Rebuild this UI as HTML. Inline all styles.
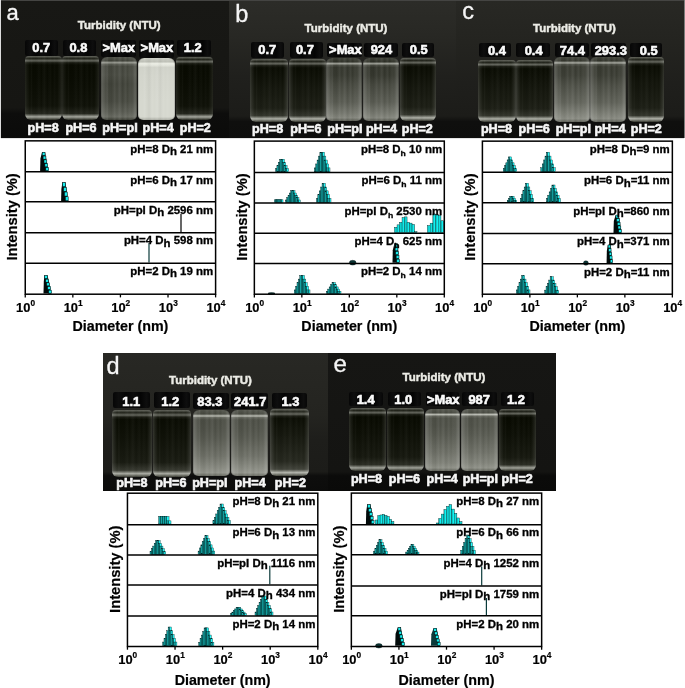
<!DOCTYPE html>
<html><head><meta charset="utf-8"><style>
html,body{margin:0;padding:0;background:#fff;}
body{width:685px;height:688px;position:relative;overflow:hidden;font-family:"Liberation Sans", sans-serif;}
.photo{position:absolute;overflow:hidden;}
.photo div{position:absolute;}
.cap{background:linear-gradient(90deg,#060606,#0e0e0e 15%,#040404 35%,#0c0c0c 55%,#040404 75%,#0e0e0e 90%,#070707);border-radius:2px;}
.vc{border-radius:4px 4px 6px 6px;}

.vt{border-radius:6px 6px 5px 5px;box-shadow:inset 1px 0 0 rgba(0,0,0,0.15),inset -1px 0 0 rgba(0,0,0,0.15);}

svg{position:absolute;left:0;top:0;will-change:transform;}
svg text{font-family:"Liberation Sans", sans-serif;}
</style></head><body>
<div class="photo" style="left:1px;top:1px;width:228px;height:137px;background:linear-gradient(#181815 0%,#161613 78%,#0d0d0c 82%,#0b0b0a 100%)"><div class="cap" style="left:24px;top:39px;width:33px;height:16px"></div><div class="vc" style="left:24px;top:55px;width:37px;height:64px;background:linear-gradient(90deg,rgba(255,255,255,0.1) 0,rgba(255,255,255,0.050) 2px,rgba(255,255,255,0) 5px,rgba(255,255,255,0) calc(100% - 5px),rgba(255,255,255,0.050) calc(100% - 2px),rgba(255,255,255,0.1) 100%),linear-gradient(90deg,rgba(255,255,255,0) 14%,rgba(255,255,255,0.03) 17%,rgba(255,255,255,0) 21%,rgba(0,0,0,0.04) 30%,rgba(255,255,255,0.025) 38%,rgba(255,255,255,0) 44%,rgba(255,255,255,0.035) 52%,rgba(0,0,0,0.03) 60%,rgba(255,255,255,0.025) 68%,rgba(255,255,255,0) 74%,rgba(255,255,255,0.02) 80%,rgba(255,255,255,0) 86%),linear-gradient(180deg,#62645b 0%,#21231a 4%,#62645b 7.5%,#171910 10.5%,#080a01 14%,#0a0c03 40%,#0f1108 78%,#23251c 90%,#a5a79e 95%,#23251c 100%)"></div><div class="cap" style="left:62px;top:39px;width:33px;height:16px"></div><div class="vc" style="left:61px;top:55px;width:37px;height:64px;background:linear-gradient(90deg,rgba(255,255,255,0.1) 0,rgba(255,255,255,0.050) 2px,rgba(255,255,255,0) 5px,rgba(255,255,255,0) calc(100% - 5px),rgba(255,255,255,0.050) calc(100% - 2px),rgba(255,255,255,0.1) 100%),linear-gradient(90deg,rgba(255,255,255,0) 14%,rgba(255,255,255,0.03) 17%,rgba(255,255,255,0) 21%,rgba(0,0,0,0.04) 30%,rgba(255,255,255,0.025) 38%,rgba(255,255,255,0) 44%,rgba(255,255,255,0.035) 52%,rgba(0,0,0,0.03) 60%,rgba(255,255,255,0.025) 68%,rgba(255,255,255,0) 74%,rgba(255,255,255,0.02) 80%,rgba(255,255,255,0) 86%),linear-gradient(180deg,#62645b 0%,#21231a 4%,#62645b 7.5%,#171910 10.5%,#080a01 14%,#0a0c03 40%,#0f1108 78%,#23251c 90%,#a5a79e 95%,#23251c 100%)"></div><div class="cap" style="left:100px;top:39px;width:35px;height:17px"></div><div class="vt" style="left:100px;top:56px;width:36px;height:63px;background:linear-gradient(90deg,rgba(255,255,255,0.182) 0%,rgba(255,255,255,0.126) 6%,rgba(255,255,255,0.042) 14%,rgba(255,255,255,0) 22%,rgba(255,255,255,0) 80%,rgba(255,255,255,0.056) 88%,rgba(255,255,255,0.154) 95%,rgba(255,255,255,0.084) 100%),linear-gradient(90deg,rgba(255,255,255,0) 14%,rgba(255,255,255,0.07) 17%,rgba(255,255,255,0) 21%,rgba(0,0,0,0.04) 30%,rgba(255,255,255,0.06) 38%,rgba(255,255,255,0) 44%,rgba(255,255,255,0.08) 52%,rgba(0,0,0,0.03) 60%,rgba(255,255,255,0.06) 68%,rgba(255,255,255,0) 74%,rgba(255,255,255,0.05) 80%,rgba(255,255,255,0) 86%),linear-gradient(180deg,#4e5047 0%,#3f4138 6%,#96988f 9%,#585a51 11.5%,#44463d 15%,#474940 28%,#404239 42%,#46483f 70%,#585a51 87%,#66685f 95%,#393b32 100%)"></div><div class="cap" style="left:138px;top:39px;width:35px;height:18px"></div><div class="vt" style="left:137px;top:57px;width:37px;height:62px;background:linear-gradient(90deg,rgba(255,255,255,-0.039) 0%,rgba(255,255,255,-0.027) 6%,rgba(255,255,255,-0.009) 14%,rgba(255,255,255,0) 22%,rgba(255,255,255,0) 80%,rgba(255,255,255,-0.012) 88%,rgba(255,255,255,-0.033) 95%,rgba(255,255,255,-0.018) 100%),linear-gradient(90deg,rgba(255,255,255,0) 14%,rgba(255,255,255,0.07) 17%,rgba(255,255,255,0) 21%,rgba(0,0,0,0.04) 30%,rgba(255,255,255,0.06) 38%,rgba(255,255,255,0) 44%,rgba(255,255,255,0.08) 52%,rgba(0,0,0,0.03) 60%,rgba(255,255,255,0.06) 68%,rgba(255,255,255,0) 74%,rgba(255,255,255,0.05) 80%,rgba(255,255,255,0) 86%),linear-gradient(180deg,#cdcfc6 0%,#bec0b7 6%,#ebede4 9%,#e4e6dd 11.5%,#d0d2c9 15%,#d3d5cc 28%,#d4d6cd 42%,#d6d8cf 70%,#d6d8cf 87%,#d6d8cf 95%,#a9aba2 100%)"></div><div class="cap" style="left:176px;top:39px;width:34px;height:16px"></div><div class="vc" style="left:175px;top:56px;width:37px;height:63px;background:linear-gradient(90deg,rgba(255,255,255,0.1) 0,rgba(255,255,255,0.050) 2px,rgba(255,255,255,0) 5px,rgba(255,255,255,0) calc(100% - 5px),rgba(255,255,255,0.050) calc(100% - 2px),rgba(255,255,255,0.1) 100%),linear-gradient(90deg,rgba(255,255,255,0) 14%,rgba(255,255,255,0.03) 17%,rgba(255,255,255,0) 21%,rgba(0,0,0,0.04) 30%,rgba(255,255,255,0.025) 38%,rgba(255,255,255,0) 44%,rgba(255,255,255,0.035) 52%,rgba(0,0,0,0.03) 60%,rgba(255,255,255,0.025) 68%,rgba(255,255,255,0) 74%,rgba(255,255,255,0.02) 80%,rgba(255,255,255,0) 86%),linear-gradient(180deg,#62645b 0%,#21231a 4%,#62645b 7.5%,#171910 10.5%,#080a01 14%,#0a0c03 40%,#0f1108 78%,#23251c 90%,#a5a79e 95%,#23251c 100%)"></div></div><div class="photo" style="left:229px;top:1px;width:227px;height:137px;background:linear-gradient(#2c2c28 0%,#282824 25%,#20201d 55%,#1c1c19 84%,#0f0f0e 88%,#0e0e0d 100%)"><div class="cap" style="left:22px;top:41px;width:33px;height:16px"></div><div class="vc" style="left:21px;top:58px;width:38px;height:63px;background:linear-gradient(90deg,rgba(255,255,255,0.16) 0,rgba(255,255,255,0.080) 2px,rgba(255,255,255,0) 5px,rgba(255,255,255,0) calc(100% - 5px),rgba(255,255,255,0.080) calc(100% - 2px),rgba(255,255,255,0.16) 100%),linear-gradient(90deg,rgba(255,255,255,0) 14%,rgba(255,255,255,0.03) 17%,rgba(255,255,255,0) 21%,rgba(0,0,0,0.04) 30%,rgba(255,255,255,0.025) 38%,rgba(255,255,255,0) 44%,rgba(255,255,255,0.035) 52%,rgba(0,0,0,0.03) 60%,rgba(255,255,255,0.025) 68%,rgba(255,255,255,0) 74%,rgba(255,255,255,0.02) 80%,rgba(255,255,255,0) 86%),linear-gradient(180deg,#64665d 0%,#23251c 4%,#64665d 7.5%,#191b12 10.5%,#0a0c03 14%,#12140b 40%,#1c1e15 78%,#32342b 90%,#afb1a8 95%,#32342b 100%)"></div><div class="cap" style="left:61px;top:41px;width:33px;height:16px"></div><div class="vc" style="left:60px;top:58px;width:37px;height:63px;background:linear-gradient(90deg,rgba(255,255,255,0.16) 0,rgba(255,255,255,0.080) 2px,rgba(255,255,255,0) 5px,rgba(255,255,255,0) calc(100% - 5px),rgba(255,255,255,0.080) calc(100% - 2px),rgba(255,255,255,0.16) 100%),linear-gradient(90deg,rgba(255,255,255,0) 14%,rgba(255,255,255,0.03) 17%,rgba(255,255,255,0) 21%,rgba(0,0,0,0.04) 30%,rgba(255,255,255,0.025) 38%,rgba(255,255,255,0) 44%,rgba(255,255,255,0.035) 52%,rgba(0,0,0,0.03) 60%,rgba(255,255,255,0.025) 68%,rgba(255,255,255,0) 74%,rgba(255,255,255,0.02) 80%,rgba(255,255,255,0) 86%),linear-gradient(180deg,#64665d 0%,#23251c 4%,#64665d 7.5%,#191b12 10.5%,#0a0c03 14%,#12140b 40%,#1c1e15 78%,#32342b 90%,#afb1a8 95%,#32342b 100%)"></div><div class="cap" style="left:98px;top:42px;width:35px;height:14px"></div><div class="vt" style="left:97px;top:57px;width:36px;height:63px;background:linear-gradient(90deg,rgba(255,255,255,0.208) 0%,rgba(255,255,255,0.144) 6%,rgba(255,255,255,0.048) 14%,rgba(255,255,255,0) 22%,rgba(255,255,255,0) 80%,rgba(255,255,255,0.064) 88%,rgba(255,255,255,0.176) 95%,rgba(255,255,255,0.096) 100%),linear-gradient(90deg,rgba(255,255,255,0) 14%,rgba(255,255,255,0.07) 17%,rgba(255,255,255,0) 21%,rgba(0,0,0,0.04) 30%,rgba(255,255,255,0.06) 38%,rgba(255,255,255,0) 44%,rgba(255,255,255,0.08) 52%,rgba(0,0,0,0.03) 60%,rgba(255,255,255,0.06) 68%,rgba(255,255,255,0) 74%,rgba(255,255,255,0.05) 80%,rgba(255,255,255,0) 86%),linear-gradient(180deg,#3e4037 0%,#2f3128 6%,#a2a49b 9%,#484a41 11.5%,#34362d 15%,#373930 28%,#44463d 42%,#585a51 70%,#72746b 87%,#82847b 95%,#55574e 100%)"></div><div class="cap" style="left:135px;top:42px;width:34px;height:14px"></div><div class="vt" style="left:134px;top:57px;width:36px;height:63px;background:linear-gradient(90deg,rgba(255,255,255,0.208) 0%,rgba(255,255,255,0.144) 6%,rgba(255,255,255,0.048) 14%,rgba(255,255,255,0) 22%,rgba(255,255,255,0) 80%,rgba(255,255,255,0.064) 88%,rgba(255,255,255,0.176) 95%,rgba(255,255,255,0.096) 100%),linear-gradient(90deg,rgba(255,255,255,0) 14%,rgba(255,255,255,0.07) 17%,rgba(255,255,255,0) 21%,rgba(0,0,0,0.04) 30%,rgba(255,255,255,0.06) 38%,rgba(255,255,255,0) 44%,rgba(255,255,255,0.08) 52%,rgba(0,0,0,0.03) 60%,rgba(255,255,255,0.06) 68%,rgba(255,255,255,0) 74%,rgba(255,255,255,0.05) 80%,rgba(255,255,255,0) 86%),linear-gradient(180deg,#3c3e35 0%,#2d2f26 6%,#a0a299 9%,#46483f 11.5%,#32342b 15%,#35372e 28%,#44463d 42%,#585a51 70%,#73756c 87%,#82847b 95%,#55574e 100%)"></div><div class="cap" style="left:173px;top:42px;width:32px;height:14px"></div><div class="vc" style="left:171px;top:57px;width:36px;height:63px;background:linear-gradient(90deg,rgba(255,255,255,0.16) 0,rgba(255,255,255,0.080) 2px,rgba(255,255,255,0) 5px,rgba(255,255,255,0) calc(100% - 5px),rgba(255,255,255,0.080) calc(100% - 2px),rgba(255,255,255,0.16) 100%),linear-gradient(90deg,rgba(255,255,255,0) 14%,rgba(255,255,255,0.03) 17%,rgba(255,255,255,0) 21%,rgba(0,0,0,0.04) 30%,rgba(255,255,255,0.025) 38%,rgba(255,255,255,0) 44%,rgba(255,255,255,0.035) 52%,rgba(0,0,0,0.03) 60%,rgba(255,255,255,0.025) 68%,rgba(255,255,255,0) 74%,rgba(255,255,255,0.02) 80%,rgba(255,255,255,0) 86%),linear-gradient(180deg,#64665d 0%,#23251c 4%,#64665d 7.5%,#191b12 10.5%,#0a0c03 14%,#12140b 40%,#1c1e15 78%,#32342b 90%,#afb1a8 95%,#32342b 100%)"></div></div><div class="photo" style="left:456px;top:1px;width:228px;height:137px;background:linear-gradient(#282824 0%,#242420 30%,#1f1f1c 60%,#1c1c19 84%,#0f0f0e 88%,#0e0e0d 100%)"><div class="cap" style="left:23px;top:42px;width:32px;height:14px"></div><div class="vc" style="left:22px;top:59px;width:38px;height:62px;background:linear-gradient(90deg,rgba(255,255,255,0.16) 0,rgba(255,255,255,0.080) 2px,rgba(255,255,255,0) 5px,rgba(255,255,255,0) calc(100% - 5px),rgba(255,255,255,0.080) calc(100% - 2px),rgba(255,255,255,0.16) 100%),linear-gradient(90deg,rgba(255,255,255,0) 14%,rgba(255,255,255,0.03) 17%,rgba(255,255,255,0) 21%,rgba(0,0,0,0.04) 30%,rgba(255,255,255,0.025) 38%,rgba(255,255,255,0) 44%,rgba(255,255,255,0.035) 52%,rgba(0,0,0,0.03) 60%,rgba(255,255,255,0.025) 68%,rgba(255,255,255,0) 74%,rgba(255,255,255,0.02) 80%,rgba(255,255,255,0) 86%),linear-gradient(180deg,#64665d 0%,#23251c 4%,#64665d 7.5%,#191b12 10.5%,#0a0c03 14%,#12140b 40%,#1c1e15 78%,#32342b 90%,#afb1a8 95%,#32342b 100%)"></div><div class="cap" style="left:60px;top:42px;width:34px;height:14px"></div><div class="vc" style="left:60px;top:59px;width:37px;height:62px;background:linear-gradient(90deg,rgba(255,255,255,0.16) 0,rgba(255,255,255,0.080) 2px,rgba(255,255,255,0) 5px,rgba(255,255,255,0) calc(100% - 5px),rgba(255,255,255,0.080) calc(100% - 2px),rgba(255,255,255,0.16) 100%),linear-gradient(90deg,rgba(255,255,255,0) 14%,rgba(255,255,255,0.03) 17%,rgba(255,255,255,0) 21%,rgba(0,0,0,0.04) 30%,rgba(255,255,255,0.025) 38%,rgba(255,255,255,0) 44%,rgba(255,255,255,0.035) 52%,rgba(0,0,0,0.03) 60%,rgba(255,255,255,0.025) 68%,rgba(255,255,255,0) 74%,rgba(255,255,255,0.02) 80%,rgba(255,255,255,0) 86%),linear-gradient(180deg,#64665d 0%,#23251c 4%,#64665d 7.5%,#191b12 10.5%,#0a0c03 14%,#12140b 40%,#1c1e15 78%,#32342b 90%,#afb1a8 95%,#32342b 100%)"></div><div class="cap" style="left:99px;top:42px;width:34px;height:14px"></div><div class="vt" style="left:98px;top:56px;width:36px;height:65px;background:linear-gradient(90deg,rgba(255,255,255,0.208) 0%,rgba(255,255,255,0.144) 6%,rgba(255,255,255,0.048) 14%,rgba(255,255,255,0) 22%,rgba(255,255,255,0) 80%,rgba(255,255,255,0.064) 88%,rgba(255,255,255,0.176) 95%,rgba(255,255,255,0.096) 100%),linear-gradient(90deg,rgba(255,255,255,0) 14%,rgba(255,255,255,0.07) 17%,rgba(255,255,255,0) 21%,rgba(0,0,0,0.04) 30%,rgba(255,255,255,0.06) 38%,rgba(255,255,255,0) 44%,rgba(255,255,255,0.08) 52%,rgba(0,0,0,0.03) 60%,rgba(255,255,255,0.06) 68%,rgba(255,255,255,0) 74%,rgba(255,255,255,0.05) 80%,rgba(255,255,255,0) 86%),linear-gradient(180deg,#43453c 0%,#34362d 6%,#a7a9a0 9%,#4d4f46 11.5%,#393b32 15%,#3c3e35 28%,#4b4d44 42%,#61635a 70%,#7d7f76 87%,#8a8c83 95%,#5d5f56 100%)"></div><div class="cap" style="left:135px;top:42px;width:35px;height:14px"></div><div class="vt" style="left:134px;top:56px;width:36px;height:65px;background:linear-gradient(90deg,rgba(255,255,255,0.208) 0%,rgba(255,255,255,0.144) 6%,rgba(255,255,255,0.048) 14%,rgba(255,255,255,0) 22%,rgba(255,255,255,0) 80%,rgba(255,255,255,0.064) 88%,rgba(255,255,255,0.176) 95%,rgba(255,255,255,0.096) 100%),linear-gradient(90deg,rgba(255,255,255,0) 14%,rgba(255,255,255,0.07) 17%,rgba(255,255,255,0) 21%,rgba(0,0,0,0.04) 30%,rgba(255,255,255,0.06) 38%,rgba(255,255,255,0) 44%,rgba(255,255,255,0.08) 52%,rgba(0,0,0,0.03) 60%,rgba(255,255,255,0.06) 68%,rgba(255,255,255,0) 74%,rgba(255,255,255,0.05) 80%,rgba(255,255,255,0) 86%),linear-gradient(180deg,#41433a 0%,#32342b 6%,#a5a79e 9%,#4b4d44 11.5%,#373930 15%,#3a3c33 28%,#484a41 42%,#5e6057 70%,#7a7c73 87%,#878980 95%,#5a5c53 100%)"></div><div class="cap" style="left:174px;top:42px;width:32px;height:14px"></div><div class="vc" style="left:172px;top:56px;width:36px;height:65px;background:linear-gradient(90deg,rgba(255,255,255,0.16) 0,rgba(255,255,255,0.080) 2px,rgba(255,255,255,0) 5px,rgba(255,255,255,0) calc(100% - 5px),rgba(255,255,255,0.080) calc(100% - 2px),rgba(255,255,255,0.16) 100%),linear-gradient(90deg,rgba(255,255,255,0) 14%,rgba(255,255,255,0.03) 17%,rgba(255,255,255,0) 21%,rgba(0,0,0,0.04) 30%,rgba(255,255,255,0.025) 38%,rgba(255,255,255,0) 44%,rgba(255,255,255,0.035) 52%,rgba(0,0,0,0.03) 60%,rgba(255,255,255,0.025) 68%,rgba(255,255,255,0) 74%,rgba(255,255,255,0.02) 80%,rgba(255,255,255,0) 86%),linear-gradient(180deg,#64665d 0%,#23251c 4%,#64665d 7.5%,#191b12 10.5%,#0a0c03 14%,#12140b 40%,#1c1e15 78%,#32342b 90%,#afb1a8 95%,#32342b 100%)"></div></div><div class="photo" style="left:103px;top:353px;width:225px;height:138px;background:linear-gradient(#282824 0%,#242420 45%,#1e1e1b 63%,#1c1c19 86%,#0e0e0d 89%,#0c0c0b 100%)"><div class="cap" style="left:10px;top:39px;width:37px;height:16px"></div><div class="vc" style="left:9px;top:57px;width:40px;height:67px;background:linear-gradient(90deg,rgba(255,255,255,0.16) 0,rgba(255,255,255,0.080) 2px,rgba(255,255,255,0) 5px,rgba(255,255,255,0) calc(100% - 5px),rgba(255,255,255,0.080) calc(100% - 2px),rgba(255,255,255,0.16) 100%),linear-gradient(90deg,rgba(255,255,255,0) 14%,rgba(255,255,255,0.03) 17%,rgba(255,255,255,0) 21%,rgba(0,0,0,0.04) 30%,rgba(255,255,255,0.025) 38%,rgba(255,255,255,0) 44%,rgba(255,255,255,0.035) 52%,rgba(0,0,0,0.03) 60%,rgba(255,255,255,0.025) 68%,rgba(255,255,255,0) 74%,rgba(255,255,255,0.02) 80%,rgba(255,255,255,0) 86%),linear-gradient(180deg,#64665d 0%,#23251c 4%,#64665d 7.5%,#191b12 10.5%,#0a0c03 14%,#0f1108 40%,#191b12 78%,#373930 90%,#aaaca3 95%,#373930 100%)"></div><div class="cap" style="left:51px;top:39px;width:36px;height:16px"></div><div class="vc" style="left:50px;top:57px;width:38px;height:67px;background:linear-gradient(90deg,rgba(255,255,255,0.16) 0,rgba(255,255,255,0.080) 2px,rgba(255,255,255,0) 5px,rgba(255,255,255,0) calc(100% - 5px),rgba(255,255,255,0.080) calc(100% - 2px),rgba(255,255,255,0.16) 100%),linear-gradient(90deg,rgba(255,255,255,0) 14%,rgba(255,255,255,0.03) 17%,rgba(255,255,255,0) 21%,rgba(0,0,0,0.04) 30%,rgba(255,255,255,0.025) 38%,rgba(255,255,255,0) 44%,rgba(255,255,255,0.035) 52%,rgba(0,0,0,0.03) 60%,rgba(255,255,255,0.025) 68%,rgba(255,255,255,0) 74%,rgba(255,255,255,0.02) 80%,rgba(255,255,255,0) 86%),linear-gradient(180deg,#64665d 0%,#23251c 4%,#64665d 7.5%,#191b12 10.5%,#0a0c03 14%,#0f1108 40%,#191b12 78%,#373930 90%,#aaaca3 95%,#373930 100%)"></div><div class="cap" style="left:90px;top:40px;width:36px;height:16px"></div><div class="vt" style="left:90px;top:57px;width:37px;height:66px;background:linear-gradient(90deg,rgba(255,255,255,0.208) 0%,rgba(255,255,255,0.144) 6%,rgba(255,255,255,0.048) 14%,rgba(255,255,255,0) 22%,rgba(255,255,255,0) 80%,rgba(255,255,255,0.064) 88%,rgba(255,255,255,0.176) 95%,rgba(255,255,255,0.096) 100%),linear-gradient(90deg,rgba(255,255,255,0) 14%,rgba(255,255,255,0.07) 17%,rgba(255,255,255,0) 21%,rgba(0,0,0,0.04) 30%,rgba(255,255,255,0.06) 38%,rgba(255,255,255,0) 44%,rgba(255,255,255,0.08) 52%,rgba(0,0,0,0.03) 60%,rgba(255,255,255,0.06) 68%,rgba(255,255,255,0) 74%,rgba(255,255,255,0.05) 80%,rgba(255,255,255,0) 86%),linear-gradient(180deg,#54564d 0%,#45473e 6%,#b8bab1 9%,#5e6057 11.5%,#4a4c43 15%,#4d4f46 28%,#54564d 42%,#6c6e65 70%,#84867d 87%,#91938a 95%,#64665d 100%)"></div><div class="cap" style="left:128px;top:40px;width:37px;height:16px"></div><div class="vt" style="left:128px;top:57px;width:37px;height:66px;background:linear-gradient(90deg,rgba(255,255,255,0.208) 0%,rgba(255,255,255,0.144) 6%,rgba(255,255,255,0.048) 14%,rgba(255,255,255,0) 22%,rgba(255,255,255,0) 80%,rgba(255,255,255,0.064) 88%,rgba(255,255,255,0.176) 95%,rgba(255,255,255,0.096) 100%),linear-gradient(90deg,rgba(255,255,255,0) 14%,rgba(255,255,255,0.07) 17%,rgba(255,255,255,0) 21%,rgba(0,0,0,0.04) 30%,rgba(255,255,255,0.06) 38%,rgba(255,255,255,0) 44%,rgba(255,255,255,0.08) 52%,rgba(0,0,0,0.03) 60%,rgba(255,255,255,0.06) 68%,rgba(255,255,255,0) 74%,rgba(255,255,255,0.05) 80%,rgba(255,255,255,0) 86%),linear-gradient(180deg,#56584f 0%,#474940 6%,#babcb3 9%,#606259 11.5%,#4c4e45 15%,#4f5148 28%,#56584f 42%,#6e7067 70%,#878980 87%,#94968d 95%,#676960 100%)"></div><div class="cap" style="left:169px;top:40px;width:35px;height:15px"></div><div class="vc" style="left:167px;top:56px;width:39px;height:67px;background:linear-gradient(90deg,rgba(255,255,255,0.18) 0,rgba(255,255,255,0.090) 2px,rgba(255,255,255,0) 5px,rgba(255,255,255,0) calc(100% - 5px),rgba(255,255,255,0.090) calc(100% - 2px),rgba(255,255,255,0.18) 100%),linear-gradient(90deg,rgba(255,255,255,0) 14%,rgba(255,255,255,0.03) 17%,rgba(255,255,255,0) 21%,rgba(0,0,0,0.04) 30%,rgba(255,255,255,0.025) 38%,rgba(255,255,255,0) 44%,rgba(255,255,255,0.035) 52%,rgba(0,0,0,0.03) 60%,rgba(255,255,255,0.025) 68%,rgba(255,255,255,0) 74%,rgba(255,255,255,0.02) 80%,rgba(255,255,255,0) 86%),linear-gradient(180deg,#66685f 0%,#25271e 4%,#66685f 7.5%,#1b1d14 10.5%,#0c0e05 14%,#16180f 40%,#26281f 78%,#41433a 90%,#b4b6ad 95%,#41433a 100%)"></div></div><div class="photo" style="left:328px;top:353px;width:228px;height:138px;background:linear-gradient(#161614 0%,#141412 86%,#0b0b0a 89%,#0a0a09 100%)"><div class="cap" style="left:21px;top:39px;width:34px;height:14px"></div><div class="vc" style="left:21px;top:55px;width:37px;height:63px;background:linear-gradient(90deg,rgba(255,255,255,0.14) 0,rgba(255,255,255,0.070) 2px,rgba(255,255,255,0) 5px,rgba(255,255,255,0) calc(100% - 5px),rgba(255,255,255,0.070) calc(100% - 2px),rgba(255,255,255,0.14) 100%),linear-gradient(90deg,rgba(255,255,255,0) 14%,rgba(255,255,255,0.03) 17%,rgba(255,255,255,0) 21%,rgba(0,0,0,0.04) 30%,rgba(255,255,255,0.025) 38%,rgba(255,255,255,0) 44%,rgba(255,255,255,0.035) 52%,rgba(0,0,0,0.03) 60%,rgba(255,255,255,0.025) 68%,rgba(255,255,255,0) 74%,rgba(255,255,255,0.02) 80%,rgba(255,255,255,0) 86%),linear-gradient(180deg,#62645b 0%,#21231a 4%,#62645b 7.5%,#171910 10.5%,#080a01 14%,#0d0f06 40%,#16180f 78%,#2a2c23 90%,#a0a299 95%,#2a2c23 100%)"></div><div class="cap" style="left:60px;top:39px;width:33px;height:14px"></div><div class="vc" style="left:59px;top:55px;width:37px;height:63px;background:linear-gradient(90deg,rgba(255,255,255,0.14) 0,rgba(255,255,255,0.070) 2px,rgba(255,255,255,0) 5px,rgba(255,255,255,0) calc(100% - 5px),rgba(255,255,255,0.070) calc(100% - 2px),rgba(255,255,255,0.14) 100%),linear-gradient(90deg,rgba(255,255,255,0) 14%,rgba(255,255,255,0.03) 17%,rgba(255,255,255,0) 21%,rgba(0,0,0,0.04) 30%,rgba(255,255,255,0.025) 38%,rgba(255,255,255,0) 44%,rgba(255,255,255,0.035) 52%,rgba(0,0,0,0.03) 60%,rgba(255,255,255,0.025) 68%,rgba(255,255,255,0) 74%,rgba(255,255,255,0.02) 80%,rgba(255,255,255,0) 86%),linear-gradient(180deg,#62645b 0%,#21231a 4%,#62645b 7.5%,#171910 10.5%,#080a01 14%,#0d0f06 40%,#16180f 78%,#2a2c23 90%,#a0a299 95%,#2a2c23 100%)"></div><div class="cap" style="left:98px;top:39px;width:33px;height:14px"></div><div class="vt" style="left:97px;top:56px;width:35px;height:62px;background:linear-gradient(90deg,rgba(255,255,255,0.208) 0%,rgba(255,255,255,0.144) 6%,rgba(255,255,255,0.048) 14%,rgba(255,255,255,0) 22%,rgba(255,255,255,0) 80%,rgba(255,255,255,0.064) 88%,rgba(255,255,255,0.176) 95%,rgba(255,255,255,0.096) 100%),linear-gradient(90deg,rgba(255,255,255,0) 14%,rgba(255,255,255,0.07) 17%,rgba(255,255,255,0) 21%,rgba(0,0,0,0.04) 30%,rgba(255,255,255,0.06) 38%,rgba(255,255,255,0) 44%,rgba(255,255,255,0.08) 52%,rgba(0,0,0,0.03) 60%,rgba(255,255,255,0.06) 68%,rgba(255,255,255,0) 74%,rgba(255,255,255,0.05) 80%,rgba(255,255,255,0) 86%),linear-gradient(180deg,#56584f 0%,#474940 6%,#babcb3 9%,#606259 11.5%,#4c4e45 15%,#4f5148 28%,#56584f 42%,#6c6e65 70%,#7d7f76 87%,#8c8e85 95%,#5f6158 100%)"></div><div class="cap" style="left:134px;top:39px;width:35px;height:14px"></div><div class="vt" style="left:133px;top:56px;width:37px;height:62px;background:linear-gradient(90deg,rgba(255,255,255,0.208) 0%,rgba(255,255,255,0.144) 6%,rgba(255,255,255,0.048) 14%,rgba(255,255,255,0) 22%,rgba(255,255,255,0) 80%,rgba(255,255,255,0.064) 88%,rgba(255,255,255,0.176) 95%,rgba(255,255,255,0.096) 100%),linear-gradient(90deg,rgba(255,255,255,0) 14%,rgba(255,255,255,0.07) 17%,rgba(255,255,255,0) 21%,rgba(0,0,0,0.04) 30%,rgba(255,255,255,0.06) 38%,rgba(255,255,255,0) 44%,rgba(255,255,255,0.08) 52%,rgba(0,0,0,0.03) 60%,rgba(255,255,255,0.06) 68%,rgba(255,255,255,0) 74%,rgba(255,255,255,0.05) 80%,rgba(255,255,255,0) 86%),linear-gradient(180deg,#585a51 0%,#494b42 6%,#bcbeb5 9%,#62645b 11.5%,#4e5047 15%,#51534a 28%,#585a51 42%,#6e7067 70%,#808279 87%,#8e9087 95%,#61635a 100%)"></div><div class="cap" style="left:173px;top:39px;width:33px;height:14px"></div><div class="vc" style="left:171px;top:56px;width:37px;height:62px;background:linear-gradient(90deg,rgba(255,255,255,0.14) 0,rgba(255,255,255,0.070) 2px,rgba(255,255,255,0) 5px,rgba(255,255,255,0) calc(100% - 5px),rgba(255,255,255,0.070) calc(100% - 2px),rgba(255,255,255,0.14) 100%),linear-gradient(90deg,rgba(255,255,255,0) 14%,rgba(255,255,255,0.03) 17%,rgba(255,255,255,0) 21%,rgba(0,0,0,0.04) 30%,rgba(255,255,255,0.025) 38%,rgba(255,255,255,0) 44%,rgba(255,255,255,0.035) 52%,rgba(0,0,0,0.03) 60%,rgba(255,255,255,0.025) 68%,rgba(255,255,255,0) 74%,rgba(255,255,255,0.02) 80%,rgba(255,255,255,0) 86%),linear-gradient(180deg,#62645b 0%,#21231a 4%,#62645b 7.5%,#171910 10.5%,#080a01 14%,#0d0f06 40%,#16180f 78%,#2a2c23 90%,#a0a299 95%,#2a2c23 100%)"></div></div>
<svg width="685" height="688" viewBox="0 0 685 688" xmlns="http://www.w3.org/2000/svg">
<rect x="1" y="0" width="683" height="1" fill="#444442"/>
<rect x="0" y="0" width="1" height="138" fill="#dcdcdc"/>
<rect x="684" y="0" width="1" height="138" fill="#7c7c7a"/>
<rect x="1" y="138" width="683" height="1" fill="#e4e4e4"/>
<polygon points="40.10,171.00 40.44,158.59 41.93,152.40 45.02,151.90 48.60,171.00" fill="#020a0a"/><rect x="42.23" y="152.25" width="2.80" height="3.12" fill="#18eded" stroke="#011" stroke-width="0.5"/><rect x="43.12" y="156.07" width="2.80" height="3.12" fill="#18eded" stroke="#011" stroke-width="0.5"/><rect x="44.01" y="159.89" width="2.80" height="3.12" fill="#18eded" stroke="#011" stroke-width="0.5"/><rect x="44.91" y="163.71" width="2.80" height="3.12" fill="#18eded" stroke="#011" stroke-width="0.5"/><rect x="45.80" y="167.53" width="2.80" height="3.12" fill="#18eded" stroke="#011" stroke-width="0.5"/><polygon points="61.10,201.10 61.38,188.88 62.36,182.80 65.46,182.30 68.20,201.10" fill="#020a0a"/><rect x="62.66" y="182.65" width="2.80" height="4.00" fill="#18eded" stroke="#011" stroke-width="0.5"/><rect x="63.57" y="187.35" width="2.80" height="4.00" fill="#18eded" stroke="#011" stroke-width="0.5"/><rect x="64.49" y="192.05" width="2.80" height="4.00" fill="#18eded" stroke="#011" stroke-width="0.5"/><rect x="65.40" y="196.75" width="2.80" height="4.00" fill="#18eded" stroke="#011" stroke-width="0.5"/><line x1="181" y1="231.95000000000002" x2="181" y2="213.8" stroke="#000" stroke-width="1.2"/><line x1="149" y1="262.55" x2="149" y2="243" stroke="#0a3a3a" stroke-width="1.2"/><polygon points="43.50,293.50 43.82,281.61 44.40,275.70 47.50,275.20 51.50,293.50" fill="#020a0a"/><rect x="44.70" y="275.55" width="2.80" height="2.96" fill="#18eded" stroke="#011" stroke-width="0.5"/><rect x="45.70" y="279.21" width="2.80" height="2.96" fill="#18eded" stroke="#011" stroke-width="0.5"/><rect x="46.70" y="282.87" width="2.80" height="2.96" fill="#18eded" stroke="#011" stroke-width="0.5"/><rect x="47.70" y="286.53" width="2.80" height="2.96" fill="#18eded" stroke="#011" stroke-width="0.5"/><rect x="48.70" y="290.19" width="2.80" height="2.96" fill="#18eded" stroke="#011" stroke-width="0.5"/><rect x="25.25" y="140.85" width="190.35" height="153.35" fill="none" stroke="#000" stroke-width="1.5"/><line x1="25.25" y1="171.7" x2="215.6" y2="171.7" stroke="#000" stroke-width="1.5"/><line x1="25.25" y1="201.8" x2="215.6" y2="201.8" stroke="#000" stroke-width="1.5"/><line x1="25.25" y1="232.65" x2="215.6" y2="232.65" stroke="#000" stroke-width="1.5"/><line x1="25.25" y1="263.25" x2="215.6" y2="263.25" stroke="#000" stroke-width="1.5"/><line x1="25.25" y1="294.2" x2="25.25" y2="297.4" stroke="#000" stroke-width="1.3"/><line x1="72.8375" y1="294.2" x2="72.8375" y2="297.4" stroke="#000" stroke-width="1.3"/><line x1="120.425" y1="294.2" x2="120.425" y2="297.4" stroke="#000" stroke-width="1.3"/><line x1="168.0125" y1="294.2" x2="168.0125" y2="297.4" stroke="#000" stroke-width="1.3"/><line x1="215.6" y1="294.2" x2="215.6" y2="297.4" stroke="#000" stroke-width="1.3"/><rect x="276.90" y="168.65" width="1.82" height="3.15" fill="#22fafa" stroke="#033" stroke-width="0.4"/><rect x="275.50" y="168.65" width="1.40" height="3.15" fill="#15a6a6" stroke="#022" stroke-width="0.4"/><rect x="278.30" y="165.50" width="1.82" height="6.30" fill="#22fafa" stroke="#033" stroke-width="0.4"/><rect x="276.90" y="165.50" width="1.40" height="6.30" fill="#15a6a6" stroke="#022" stroke-width="0.4"/><rect x="279.69" y="162.35" width="1.82" height="9.45" fill="#22fafa" stroke="#033" stroke-width="0.4"/><rect x="278.30" y="162.35" width="1.40" height="9.45" fill="#15a6a6" stroke="#022" stroke-width="0.4"/><rect x="281.09" y="159.20" width="1.82" height="12.60" fill="#22fafa" stroke="#033" stroke-width="0.4"/><rect x="279.69" y="159.20" width="1.40" height="12.60" fill="#15a6a6" stroke="#022" stroke-width="0.4"/><rect x="282.49" y="159.20" width="1.82" height="12.60" fill="#22fafa" stroke="#033" stroke-width="0.4"/><rect x="281.09" y="159.20" width="1.40" height="12.60" fill="#15a6a6" stroke="#022" stroke-width="0.4"/><rect x="283.89" y="162.35" width="1.82" height="9.45" fill="#22fafa" stroke="#033" stroke-width="0.4"/><rect x="282.49" y="162.35" width="1.40" height="9.45" fill="#15a6a6" stroke="#022" stroke-width="0.4"/><rect x="285.28" y="165.50" width="1.82" height="6.30" fill="#22fafa" stroke="#033" stroke-width="0.4"/><rect x="283.89" y="165.50" width="1.40" height="6.30" fill="#15a6a6" stroke="#022" stroke-width="0.4"/><rect x="286.68" y="168.65" width="1.82" height="3.15" fill="#22fafa" stroke="#033" stroke-width="0.4"/><rect x="285.28" y="168.65" width="1.40" height="3.15" fill="#15a6a6" stroke="#022" stroke-width="0.4"/><rect x="315.69" y="167.88" width="1.81" height="3.92" fill="#22fafa" stroke="#033" stroke-width="0.4"/><rect x="314.30" y="167.88" width="1.39" height="3.92" fill="#15a6a6" stroke="#022" stroke-width="0.4"/><rect x="317.08" y="163.96" width="1.81" height="7.84" fill="#22fafa" stroke="#033" stroke-width="0.4"/><rect x="315.69" y="163.96" width="1.39" height="7.84" fill="#15a6a6" stroke="#022" stroke-width="0.4"/><rect x="318.47" y="160.04" width="1.81" height="11.76" fill="#22fafa" stroke="#033" stroke-width="0.4"/><rect x="317.08" y="160.04" width="1.39" height="11.76" fill="#15a6a6" stroke="#022" stroke-width="0.4"/><rect x="319.86" y="156.12" width="1.81" height="15.68" fill="#22fafa" stroke="#033" stroke-width="0.4"/><rect x="318.47" y="156.12" width="1.39" height="15.68" fill="#15a6a6" stroke="#022" stroke-width="0.4"/><rect x="321.25" y="152.20" width="1.81" height="19.60" fill="#22fafa" stroke="#033" stroke-width="0.4"/><rect x="319.86" y="152.20" width="1.39" height="19.60" fill="#15a6a6" stroke="#022" stroke-width="0.4"/><rect x="322.64" y="152.20" width="1.81" height="19.60" fill="#22fafa" stroke="#033" stroke-width="0.4"/><rect x="321.25" y="152.20" width="1.39" height="19.60" fill="#15a6a6" stroke="#022" stroke-width="0.4"/><rect x="324.03" y="156.12" width="1.81" height="15.68" fill="#22fafa" stroke="#033" stroke-width="0.4"/><rect x="322.64" y="156.12" width="1.39" height="15.68" fill="#15a6a6" stroke="#022" stroke-width="0.4"/><rect x="325.42" y="160.04" width="1.81" height="11.76" fill="#22fafa" stroke="#033" stroke-width="0.4"/><rect x="324.03" y="160.04" width="1.39" height="11.76" fill="#15a6a6" stroke="#022" stroke-width="0.4"/><rect x="326.80" y="163.96" width="1.81" height="7.84" fill="#22fafa" stroke="#033" stroke-width="0.4"/><rect x="325.42" y="163.96" width="1.39" height="7.84" fill="#15a6a6" stroke="#022" stroke-width="0.4"/><rect x="328.19" y="167.88" width="1.81" height="3.92" fill="#22fafa" stroke="#033" stroke-width="0.4"/><rect x="326.80" y="167.88" width="1.39" height="3.92" fill="#15a6a6" stroke="#022" stroke-width="0.4"/><rect x="275.58" y="199.80" width="1.53" height="2.50" fill="#22fafa" stroke="#033" stroke-width="0.4"/><rect x="274.40" y="199.80" width="1.18" height="2.50" fill="#15a6a6" stroke="#022" stroke-width="0.4"/><rect x="276.76" y="199.80" width="1.53" height="2.50" fill="#22fafa" stroke="#033" stroke-width="0.4"/><rect x="275.58" y="199.80" width="1.18" height="2.50" fill="#15a6a6" stroke="#022" stroke-width="0.4"/><rect x="277.93" y="199.80" width="1.53" height="2.50" fill="#22fafa" stroke="#033" stroke-width="0.4"/><rect x="276.76" y="199.80" width="1.18" height="2.50" fill="#15a6a6" stroke="#022" stroke-width="0.4"/><rect x="279.11" y="199.80" width="1.53" height="2.50" fill="#22fafa" stroke="#033" stroke-width="0.4"/><rect x="277.93" y="199.80" width="1.18" height="2.50" fill="#15a6a6" stroke="#022" stroke-width="0.4"/><rect x="280.29" y="199.80" width="1.53" height="2.50" fill="#22fafa" stroke="#033" stroke-width="0.4"/><rect x="279.11" y="199.80" width="1.18" height="2.50" fill="#15a6a6" stroke="#022" stroke-width="0.4"/><rect x="281.47" y="199.80" width="1.53" height="2.50" fill="#22fafa" stroke="#033" stroke-width="0.4"/><rect x="280.29" y="199.80" width="1.18" height="2.50" fill="#15a6a6" stroke="#022" stroke-width="0.4"/><rect x="286.72" y="199.98" width="1.71" height="2.32" fill="#22fafa" stroke="#033" stroke-width="0.4"/><rect x="285.40" y="199.98" width="1.32" height="2.32" fill="#15a6a6" stroke="#022" stroke-width="0.4"/><rect x="288.04" y="197.66" width="1.71" height="4.64" fill="#22fafa" stroke="#033" stroke-width="0.4"/><rect x="286.72" y="197.66" width="1.32" height="4.64" fill="#15a6a6" stroke="#022" stroke-width="0.4"/><rect x="289.36" y="195.34" width="1.71" height="6.96" fill="#22fafa" stroke="#033" stroke-width="0.4"/><rect x="288.04" y="195.34" width="1.32" height="6.96" fill="#15a6a6" stroke="#022" stroke-width="0.4"/><rect x="290.67" y="193.02" width="1.71" height="9.28" fill="#22fafa" stroke="#033" stroke-width="0.4"/><rect x="289.36" y="193.02" width="1.32" height="9.28" fill="#15a6a6" stroke="#022" stroke-width="0.4"/><rect x="291.99" y="190.70" width="1.71" height="11.60" fill="#22fafa" stroke="#033" stroke-width="0.4"/><rect x="290.67" y="190.70" width="1.32" height="11.60" fill="#15a6a6" stroke="#022" stroke-width="0.4"/><rect x="293.31" y="190.70" width="1.71" height="11.60" fill="#22fafa" stroke="#033" stroke-width="0.4"/><rect x="291.99" y="190.70" width="1.32" height="11.60" fill="#15a6a6" stroke="#022" stroke-width="0.4"/><rect x="294.63" y="193.02" width="1.71" height="9.28" fill="#22fafa" stroke="#033" stroke-width="0.4"/><rect x="293.31" y="193.02" width="1.32" height="9.28" fill="#15a6a6" stroke="#022" stroke-width="0.4"/><rect x="295.95" y="195.34" width="1.71" height="6.96" fill="#22fafa" stroke="#033" stroke-width="0.4"/><rect x="294.63" y="195.34" width="1.32" height="6.96" fill="#15a6a6" stroke="#022" stroke-width="0.4"/><rect x="297.27" y="197.66" width="1.71" height="4.64" fill="#22fafa" stroke="#033" stroke-width="0.4"/><rect x="295.95" y="197.66" width="1.32" height="4.64" fill="#15a6a6" stroke="#022" stroke-width="0.4"/><rect x="298.59" y="199.98" width="1.71" height="2.32" fill="#22fafa" stroke="#033" stroke-width="0.4"/><rect x="297.27" y="199.98" width="1.32" height="2.32" fill="#15a6a6" stroke="#022" stroke-width="0.4"/><rect x="317.82" y="198.48" width="1.84" height="3.82" fill="#22fafa" stroke="#033" stroke-width="0.4"/><rect x="316.40" y="198.48" width="1.42" height="3.82" fill="#15a6a6" stroke="#022" stroke-width="0.4"/><rect x="319.23" y="194.66" width="1.84" height="7.64" fill="#22fafa" stroke="#033" stroke-width="0.4"/><rect x="317.82" y="194.66" width="1.42" height="7.64" fill="#15a6a6" stroke="#022" stroke-width="0.4"/><rect x="320.65" y="190.84" width="1.84" height="11.46" fill="#22fafa" stroke="#033" stroke-width="0.4"/><rect x="319.23" y="190.84" width="1.42" height="11.46" fill="#15a6a6" stroke="#022" stroke-width="0.4"/><rect x="322.07" y="187.02" width="1.84" height="15.28" fill="#22fafa" stroke="#033" stroke-width="0.4"/><rect x="320.65" y="187.02" width="1.42" height="15.28" fill="#15a6a6" stroke="#022" stroke-width="0.4"/><rect x="323.49" y="183.20" width="1.84" height="19.10" fill="#22fafa" stroke="#033" stroke-width="0.4"/><rect x="322.07" y="183.20" width="1.42" height="19.10" fill="#15a6a6" stroke="#022" stroke-width="0.4"/><rect x="324.90" y="187.02" width="1.84" height="15.28" fill="#22fafa" stroke="#033" stroke-width="0.4"/><rect x="323.49" y="187.02" width="1.42" height="15.28" fill="#15a6a6" stroke="#022" stroke-width="0.4"/><rect x="326.32" y="190.84" width="1.84" height="11.46" fill="#22fafa" stroke="#033" stroke-width="0.4"/><rect x="324.90" y="190.84" width="1.42" height="11.46" fill="#15a6a6" stroke="#022" stroke-width="0.4"/><rect x="327.74" y="194.66" width="1.84" height="7.64" fill="#22fafa" stroke="#033" stroke-width="0.4"/><rect x="326.32" y="194.66" width="1.42" height="7.64" fill="#15a6a6" stroke="#022" stroke-width="0.4"/><rect x="329.16" y="198.48" width="1.84" height="3.82" fill="#22fafa" stroke="#033" stroke-width="0.4"/><rect x="327.74" y="198.48" width="1.42" height="3.82" fill="#15a6a6" stroke="#022" stroke-width="0.4"/><rect x="394.60" y="227.35" width="2.49" height="5.15" fill="#10f2f2" stroke="#022" stroke-width="0.45"/><rect x="394.85" y="227.65" width="0.75" height="4.85" fill="#12b4b4"/><rect x="397.09" y="224.86" width="2.49" height="7.64" fill="#10f2f2" stroke="#022" stroke-width="0.45"/><rect x="397.34" y="225.16" width="0.75" height="7.34" fill="#12b4b4"/><rect x="399.58" y="222.36" width="2.49" height="10.14" fill="#10f2f2" stroke="#022" stroke-width="0.45"/><rect x="399.83" y="222.66" width="0.75" height="9.84" fill="#12b4b4"/><rect x="402.07" y="217.68" width="2.49" height="14.82" fill="#10f2f2" stroke="#022" stroke-width="0.45"/><rect x="402.32" y="217.98" width="0.75" height="14.52" fill="#12b4b4"/><rect x="404.56" y="216.90" width="2.49" height="15.60" fill="#10f2f2" stroke="#022" stroke-width="0.45"/><rect x="404.81" y="217.20" width="0.75" height="15.30" fill="#12b4b4"/><rect x="407.04" y="222.36" width="2.49" height="10.14" fill="#10f2f2" stroke="#022" stroke-width="0.45"/><rect x="407.29" y="222.66" width="0.75" height="9.84" fill="#12b4b4"/><rect x="409.53" y="223.14" width="2.49" height="9.36" fill="#10f2f2" stroke="#022" stroke-width="0.45"/><rect x="409.78" y="223.44" width="0.75" height="9.06" fill="#12b4b4"/><rect x="412.02" y="224.54" width="2.49" height="7.96" fill="#10f2f2" stroke="#022" stroke-width="0.45"/><rect x="412.27" y="224.84" width="0.75" height="7.66" fill="#12b4b4"/><rect x="414.51" y="231.72" width="2.49" height="0.78" fill="#10f2f2" stroke="#022" stroke-width="0.45"/><rect x="414.76" y="232.02" width="0.75" height="0.48" fill="#12b4b4"/><rect x="427.50" y="225.62" width="2.68" height="6.88" fill="#10f2f2" stroke="#022" stroke-width="0.45"/><rect x="427.75" y="225.92" width="0.81" height="6.58" fill="#12b4b4"/><rect x="430.18" y="223.20" width="2.68" height="9.30" fill="#10f2f2" stroke="#022" stroke-width="0.45"/><rect x="430.43" y="223.50" width="0.81" height="9.00" fill="#12b4b4"/><rect x="432.87" y="213.90" width="2.68" height="18.60" fill="#10f2f2" stroke="#022" stroke-width="0.45"/><rect x="433.12" y="214.20" width="0.81" height="18.30" fill="#12b4b4"/><rect x="435.55" y="214.64" width="2.68" height="17.86" fill="#10f2f2" stroke="#022" stroke-width="0.45"/><rect x="435.80" y="214.94" width="0.81" height="17.56" fill="#12b4b4"/><rect x="438.23" y="215.57" width="2.68" height="16.93" fill="#10f2f2" stroke="#022" stroke-width="0.45"/><rect x="438.48" y="215.87" width="0.81" height="16.63" fill="#12b4b4"/><rect x="440.92" y="220.78" width="2.68" height="11.72" fill="#10f2f2" stroke="#022" stroke-width="0.45"/><rect x="441.17" y="221.08" width="0.81" height="11.42" fill="#12b4b4"/><ellipse cx="352.70" cy="262.70" rx="3.30" ry="2.40" fill="#0a3434" stroke="#011" stroke-width="0.4"/><polygon points="392.50,262.70 392.78,250.16 394.30,243.90 397.40,243.40 399.50,262.70" fill="#020a0a"/><rect x="394.60" y="243.75" width="2.80" height="3.16" fill="#18eded" stroke="#011" stroke-width="0.5"/><rect x="395.12" y="247.61" width="2.80" height="3.16" fill="#18eded" stroke="#011" stroke-width="0.5"/><rect x="395.65" y="251.47" width="2.80" height="3.16" fill="#18eded" stroke="#011" stroke-width="0.5"/><rect x="396.18" y="255.33" width="2.80" height="3.16" fill="#18eded" stroke="#011" stroke-width="0.5"/><rect x="396.70" y="259.19" width="2.80" height="3.16" fill="#18eded" stroke="#011" stroke-width="0.5"/><ellipse cx="271.50" cy="293.50" rx="3.50" ry="0.90" fill="#0a3434" stroke="#011" stroke-width="0.4"/><rect x="295.60" y="289.90" width="1.82" height="3.60" fill="#22fafa" stroke="#033" stroke-width="0.4"/><rect x="294.20" y="289.90" width="1.40" height="3.60" fill="#15a6a6" stroke="#022" stroke-width="0.4"/><rect x="297.00" y="286.30" width="1.82" height="7.20" fill="#22fafa" stroke="#033" stroke-width="0.4"/><rect x="295.60" y="286.30" width="1.40" height="7.20" fill="#15a6a6" stroke="#022" stroke-width="0.4"/><rect x="298.39" y="282.70" width="1.82" height="10.80" fill="#22fafa" stroke="#033" stroke-width="0.4"/><rect x="297.00" y="282.70" width="1.40" height="10.80" fill="#15a6a6" stroke="#022" stroke-width="0.4"/><rect x="299.79" y="279.10" width="1.82" height="14.40" fill="#22fafa" stroke="#033" stroke-width="0.4"/><rect x="298.39" y="279.10" width="1.40" height="14.40" fill="#15a6a6" stroke="#022" stroke-width="0.4"/><rect x="301.19" y="275.50" width="1.82" height="18.00" fill="#22fafa" stroke="#033" stroke-width="0.4"/><rect x="299.79" y="275.50" width="1.40" height="18.00" fill="#15a6a6" stroke="#022" stroke-width="0.4"/><rect x="302.59" y="275.50" width="1.82" height="18.00" fill="#22fafa" stroke="#033" stroke-width="0.4"/><rect x="301.19" y="275.50" width="1.40" height="18.00" fill="#15a6a6" stroke="#022" stroke-width="0.4"/><rect x="303.99" y="279.10" width="1.82" height="14.40" fill="#22fafa" stroke="#033" stroke-width="0.4"/><rect x="302.59" y="279.10" width="1.40" height="14.40" fill="#15a6a6" stroke="#022" stroke-width="0.4"/><rect x="305.39" y="282.70" width="1.82" height="10.80" fill="#22fafa" stroke="#033" stroke-width="0.4"/><rect x="303.99" y="282.70" width="1.40" height="10.80" fill="#15a6a6" stroke="#022" stroke-width="0.4"/><rect x="306.78" y="286.30" width="1.82" height="7.20" fill="#22fafa" stroke="#033" stroke-width="0.4"/><rect x="305.39" y="286.30" width="1.40" height="7.20" fill="#15a6a6" stroke="#022" stroke-width="0.4"/><rect x="308.18" y="289.90" width="1.82" height="3.60" fill="#22fafa" stroke="#033" stroke-width="0.4"/><rect x="306.78" y="289.90" width="1.40" height="3.60" fill="#15a6a6" stroke="#022" stroke-width="0.4"/><rect x="327.73" y="291.30" width="1.86" height="2.20" fill="#22fafa" stroke="#033" stroke-width="0.4"/><rect x="326.30" y="291.30" width="1.43" height="2.20" fill="#15a6a6" stroke="#022" stroke-width="0.4"/><rect x="329.15" y="289.10" width="1.86" height="4.40" fill="#22fafa" stroke="#033" stroke-width="0.4"/><rect x="327.73" y="289.10" width="1.43" height="4.40" fill="#15a6a6" stroke="#022" stroke-width="0.4"/><rect x="330.58" y="286.90" width="1.86" height="6.60" fill="#22fafa" stroke="#033" stroke-width="0.4"/><rect x="329.15" y="286.90" width="1.43" height="6.60" fill="#15a6a6" stroke="#022" stroke-width="0.4"/><rect x="332.01" y="284.70" width="1.86" height="8.80" fill="#22fafa" stroke="#033" stroke-width="0.4"/><rect x="330.58" y="284.70" width="1.43" height="8.80" fill="#15a6a6" stroke="#022" stroke-width="0.4"/><rect x="333.44" y="282.50" width="1.86" height="11.00" fill="#22fafa" stroke="#033" stroke-width="0.4"/><rect x="332.01" y="282.50" width="1.43" height="11.00" fill="#15a6a6" stroke="#022" stroke-width="0.4"/><rect x="334.86" y="284.70" width="1.86" height="8.80" fill="#22fafa" stroke="#033" stroke-width="0.4"/><rect x="333.44" y="284.70" width="1.43" height="8.80" fill="#15a6a6" stroke="#022" stroke-width="0.4"/><rect x="336.29" y="286.90" width="1.86" height="6.60" fill="#22fafa" stroke="#033" stroke-width="0.4"/><rect x="334.86" y="286.90" width="1.43" height="6.60" fill="#15a6a6" stroke="#022" stroke-width="0.4"/><rect x="337.72" y="289.10" width="1.86" height="4.40" fill="#22fafa" stroke="#033" stroke-width="0.4"/><rect x="336.29" y="289.10" width="1.43" height="4.40" fill="#15a6a6" stroke="#022" stroke-width="0.4"/><rect x="339.14" y="291.30" width="1.86" height="2.20" fill="#22fafa" stroke="#033" stroke-width="0.4"/><rect x="337.72" y="291.30" width="1.43" height="2.20" fill="#15a6a6" stroke="#022" stroke-width="0.4"/><rect x="254.35" y="141.1" width="189.95000000000002" height="153.1" fill="none" stroke="#000" stroke-width="1.5"/><line x1="254.35" y1="172.5" x2="444.3" y2="172.5" stroke="#000" stroke-width="1.5"/><line x1="254.35" y1="203.0" x2="444.3" y2="203.0" stroke="#000" stroke-width="1.5"/><line x1="254.35" y1="233.2" x2="444.3" y2="233.2" stroke="#000" stroke-width="1.5"/><line x1="254.35" y1="263.4" x2="444.3" y2="263.4" stroke="#000" stroke-width="1.5"/><line x1="254.35" y1="294.2" x2="254.35" y2="297.4" stroke="#000" stroke-width="1.3"/><line x1="301.8375" y1="294.2" x2="301.8375" y2="297.4" stroke="#000" stroke-width="1.3"/><line x1="349.325" y1="294.2" x2="349.325" y2="297.4" stroke="#000" stroke-width="1.3"/><line x1="396.8125" y1="294.2" x2="396.8125" y2="297.4" stroke="#000" stroke-width="1.3"/><line x1="444.3" y1="294.2" x2="444.3" y2="297.4" stroke="#000" stroke-width="1.3"/><rect x="504.51" y="168.70" width="1.70" height="2.95" fill="#22fafa" stroke="#033" stroke-width="0.4"/><rect x="503.20" y="168.70" width="1.31" height="2.95" fill="#15a6a6" stroke="#022" stroke-width="0.4"/><rect x="505.82" y="165.75" width="1.70" height="5.90" fill="#22fafa" stroke="#033" stroke-width="0.4"/><rect x="504.51" y="165.75" width="1.31" height="5.90" fill="#15a6a6" stroke="#022" stroke-width="0.4"/><rect x="507.13" y="162.80" width="1.70" height="8.85" fill="#22fafa" stroke="#033" stroke-width="0.4"/><rect x="505.82" y="162.80" width="1.31" height="8.85" fill="#15a6a6" stroke="#022" stroke-width="0.4"/><rect x="508.44" y="159.85" width="1.70" height="11.80" fill="#22fafa" stroke="#033" stroke-width="0.4"/><rect x="507.13" y="159.85" width="1.31" height="11.80" fill="#15a6a6" stroke="#022" stroke-width="0.4"/><rect x="509.75" y="156.90" width="1.70" height="14.75" fill="#22fafa" stroke="#033" stroke-width="0.4"/><rect x="508.44" y="156.90" width="1.31" height="14.75" fill="#15a6a6" stroke="#022" stroke-width="0.4"/><rect x="511.06" y="159.85" width="1.70" height="11.80" fill="#22fafa" stroke="#033" stroke-width="0.4"/><rect x="509.75" y="159.85" width="1.31" height="11.80" fill="#15a6a6" stroke="#022" stroke-width="0.4"/><rect x="512.37" y="162.80" width="1.70" height="8.85" fill="#22fafa" stroke="#033" stroke-width="0.4"/><rect x="511.06" y="162.80" width="1.31" height="8.85" fill="#15a6a6" stroke="#022" stroke-width="0.4"/><rect x="513.69" y="165.75" width="1.70" height="5.90" fill="#22fafa" stroke="#033" stroke-width="0.4"/><rect x="512.37" y="165.75" width="1.31" height="5.90" fill="#15a6a6" stroke="#022" stroke-width="0.4"/><rect x="515.00" y="168.70" width="1.70" height="2.95" fill="#22fafa" stroke="#033" stroke-width="0.4"/><rect x="513.69" y="168.70" width="1.31" height="2.95" fill="#15a6a6" stroke="#022" stroke-width="0.4"/><rect x="542.20" y="167.76" width="1.82" height="3.89" fill="#22fafa" stroke="#033" stroke-width="0.4"/><rect x="540.80" y="167.76" width="1.40" height="3.89" fill="#15a6a6" stroke="#022" stroke-width="0.4"/><rect x="543.60" y="163.87" width="1.82" height="7.78" fill="#22fafa" stroke="#033" stroke-width="0.4"/><rect x="542.20" y="163.87" width="1.40" height="7.78" fill="#15a6a6" stroke="#022" stroke-width="0.4"/><rect x="544.99" y="159.98" width="1.82" height="11.67" fill="#22fafa" stroke="#033" stroke-width="0.4"/><rect x="543.60" y="159.98" width="1.40" height="11.67" fill="#15a6a6" stroke="#022" stroke-width="0.4"/><rect x="546.39" y="156.09" width="1.82" height="15.56" fill="#22fafa" stroke="#033" stroke-width="0.4"/><rect x="544.99" y="156.09" width="1.40" height="15.56" fill="#15a6a6" stroke="#022" stroke-width="0.4"/><rect x="547.79" y="152.20" width="1.82" height="19.45" fill="#22fafa" stroke="#033" stroke-width="0.4"/><rect x="546.39" y="152.20" width="1.40" height="19.45" fill="#15a6a6" stroke="#022" stroke-width="0.4"/><rect x="549.19" y="156.09" width="1.82" height="15.56" fill="#22fafa" stroke="#033" stroke-width="0.4"/><rect x="547.79" y="156.09" width="1.40" height="15.56" fill="#15a6a6" stroke="#022" stroke-width="0.4"/><rect x="550.59" y="159.98" width="1.82" height="11.67" fill="#22fafa" stroke="#033" stroke-width="0.4"/><rect x="549.19" y="159.98" width="1.40" height="11.67" fill="#15a6a6" stroke="#022" stroke-width="0.4"/><rect x="551.98" y="163.87" width="1.82" height="7.78" fill="#22fafa" stroke="#033" stroke-width="0.4"/><rect x="550.59" y="163.87" width="1.40" height="7.78" fill="#15a6a6" stroke="#022" stroke-width="0.4"/><rect x="553.38" y="167.76" width="1.82" height="3.89" fill="#22fafa" stroke="#033" stroke-width="0.4"/><rect x="551.98" y="167.76" width="1.40" height="3.89" fill="#15a6a6" stroke="#022" stroke-width="0.4"/><rect x="508.50" y="200.17" width="1.69" height="1.93" fill="#22fafa" stroke="#033" stroke-width="0.4"/><rect x="507.20" y="200.17" width="1.30" height="1.93" fill="#15a6a6" stroke="#022" stroke-width="0.4"/><rect x="509.80" y="198.23" width="1.69" height="3.87" fill="#22fafa" stroke="#033" stroke-width="0.4"/><rect x="508.50" y="198.23" width="1.30" height="3.87" fill="#15a6a6" stroke="#022" stroke-width="0.4"/><rect x="511.10" y="196.30" width="1.69" height="5.80" fill="#22fafa" stroke="#033" stroke-width="0.4"/><rect x="509.80" y="196.30" width="1.30" height="5.80" fill="#15a6a6" stroke="#022" stroke-width="0.4"/><rect x="512.41" y="196.30" width="1.69" height="5.80" fill="#22fafa" stroke="#033" stroke-width="0.4"/><rect x="511.10" y="196.30" width="1.30" height="5.80" fill="#15a6a6" stroke="#022" stroke-width="0.4"/><rect x="513.71" y="198.23" width="1.69" height="3.87" fill="#22fafa" stroke="#033" stroke-width="0.4"/><rect x="512.41" y="198.23" width="1.30" height="3.87" fill="#15a6a6" stroke="#022" stroke-width="0.4"/><rect x="515.01" y="200.17" width="1.69" height="1.93" fill="#22fafa" stroke="#033" stroke-width="0.4"/><rect x="513.71" y="200.17" width="1.30" height="1.93" fill="#15a6a6" stroke="#022" stroke-width="0.4"/><rect x="521.52" y="198.32" width="1.72" height="3.78" fill="#22fafa" stroke="#033" stroke-width="0.4"/><rect x="520.20" y="198.32" width="1.32" height="3.78" fill="#15a6a6" stroke="#022" stroke-width="0.4"/><rect x="522.84" y="194.54" width="1.72" height="7.56" fill="#22fafa" stroke="#033" stroke-width="0.4"/><rect x="521.52" y="194.54" width="1.32" height="7.56" fill="#15a6a6" stroke="#022" stroke-width="0.4"/><rect x="524.16" y="190.76" width="1.72" height="11.34" fill="#22fafa" stroke="#033" stroke-width="0.4"/><rect x="522.84" y="190.76" width="1.32" height="11.34" fill="#15a6a6" stroke="#022" stroke-width="0.4"/><rect x="525.48" y="186.98" width="1.72" height="15.12" fill="#22fafa" stroke="#033" stroke-width="0.4"/><rect x="524.16" y="186.98" width="1.32" height="15.12" fill="#15a6a6" stroke="#022" stroke-width="0.4"/><rect x="526.80" y="183.20" width="1.72" height="18.90" fill="#22fafa" stroke="#033" stroke-width="0.4"/><rect x="525.48" y="183.20" width="1.32" height="18.90" fill="#15a6a6" stroke="#022" stroke-width="0.4"/><rect x="528.12" y="186.98" width="1.72" height="15.12" fill="#22fafa" stroke="#033" stroke-width="0.4"/><rect x="526.80" y="186.98" width="1.32" height="15.12" fill="#15a6a6" stroke="#022" stroke-width="0.4"/><rect x="529.44" y="190.76" width="1.72" height="11.34" fill="#22fafa" stroke="#033" stroke-width="0.4"/><rect x="528.12" y="190.76" width="1.32" height="11.34" fill="#15a6a6" stroke="#022" stroke-width="0.4"/><rect x="530.76" y="194.54" width="1.72" height="7.56" fill="#22fafa" stroke="#033" stroke-width="0.4"/><rect x="529.44" y="194.54" width="1.32" height="7.56" fill="#15a6a6" stroke="#022" stroke-width="0.4"/><rect x="532.08" y="198.32" width="1.72" height="3.78" fill="#22fafa" stroke="#033" stroke-width="0.4"/><rect x="530.76" y="198.32" width="1.32" height="3.78" fill="#15a6a6" stroke="#022" stroke-width="0.4"/><rect x="547.77" y="198.68" width="1.78" height="3.42" fill="#22fafa" stroke="#033" stroke-width="0.4"/><rect x="546.40" y="198.68" width="1.37" height="3.42" fill="#15a6a6" stroke="#022" stroke-width="0.4"/><rect x="549.14" y="195.26" width="1.78" height="6.84" fill="#22fafa" stroke="#033" stroke-width="0.4"/><rect x="547.77" y="195.26" width="1.37" height="6.84" fill="#15a6a6" stroke="#022" stroke-width="0.4"/><rect x="550.51" y="191.84" width="1.78" height="10.26" fill="#22fafa" stroke="#033" stroke-width="0.4"/><rect x="549.14" y="191.84" width="1.37" height="10.26" fill="#15a6a6" stroke="#022" stroke-width="0.4"/><rect x="551.88" y="188.42" width="1.78" height="13.68" fill="#22fafa" stroke="#033" stroke-width="0.4"/><rect x="550.51" y="188.42" width="1.37" height="13.68" fill="#15a6a6" stroke="#022" stroke-width="0.4"/><rect x="553.24" y="185.00" width="1.78" height="17.10" fill="#22fafa" stroke="#033" stroke-width="0.4"/><rect x="551.88" y="185.00" width="1.37" height="17.10" fill="#15a6a6" stroke="#022" stroke-width="0.4"/><rect x="554.61" y="188.42" width="1.78" height="13.68" fill="#22fafa" stroke="#033" stroke-width="0.4"/><rect x="553.24" y="188.42" width="1.37" height="13.68" fill="#15a6a6" stroke="#022" stroke-width="0.4"/><rect x="555.98" y="191.84" width="1.78" height="10.26" fill="#22fafa" stroke="#033" stroke-width="0.4"/><rect x="554.61" y="191.84" width="1.37" height="10.26" fill="#15a6a6" stroke="#022" stroke-width="0.4"/><rect x="557.35" y="195.26" width="1.78" height="6.84" fill="#22fafa" stroke="#033" stroke-width="0.4"/><rect x="555.98" y="195.26" width="1.37" height="6.84" fill="#15a6a6" stroke="#022" stroke-width="0.4"/><rect x="558.72" y="198.68" width="1.78" height="3.42" fill="#22fafa" stroke="#033" stroke-width="0.4"/><rect x="557.35" y="198.68" width="1.37" height="3.42" fill="#15a6a6" stroke="#022" stroke-width="0.4"/><polygon points="613.50,232.90 613.82,221.07 615.60,215.20 618.70,214.70 621.50,232.90" fill="#020a0a"/><rect x="615.90" y="215.05" width="2.80" height="2.94" fill="#18eded" stroke="#011" stroke-width="0.5"/><rect x="616.60" y="218.69" width="2.80" height="2.94" fill="#18eded" stroke="#011" stroke-width="0.5"/><rect x="617.30" y="222.33" width="2.80" height="2.94" fill="#18eded" stroke="#011" stroke-width="0.5"/><rect x="618.00" y="225.97" width="2.80" height="2.94" fill="#18eded" stroke="#011" stroke-width="0.5"/><rect x="618.70" y="229.61" width="2.80" height="2.94" fill="#18eded" stroke="#011" stroke-width="0.5"/><ellipse cx="585.90" cy="263.05" rx="2.50" ry="2.25" fill="#0a3434" stroke="#011" stroke-width="0.4"/><polygon points="606.60,263.05 606.84,251.06 607.80,245.10 610.50,244.60 612.60,263.05" fill="#020a0a"/><rect x="608.10" y="244.95" width="2.40" height="2.99" fill="#18eded" stroke="#011" stroke-width="0.5"/><rect x="608.62" y="248.64" width="2.40" height="2.99" fill="#18eded" stroke="#011" stroke-width="0.5"/><rect x="609.15" y="252.33" width="2.40" height="2.99" fill="#18eded" stroke="#011" stroke-width="0.5"/><rect x="609.68" y="256.02" width="2.40" height="2.99" fill="#18eded" stroke="#011" stroke-width="0.5"/><rect x="610.20" y="259.71" width="2.40" height="2.99" fill="#18eded" stroke="#011" stroke-width="0.5"/><rect x="517.63" y="289.90" width="1.73" height="3.60" fill="#22fafa" stroke="#033" stroke-width="0.4"/><rect x="516.30" y="289.90" width="1.33" height="3.60" fill="#15a6a6" stroke="#022" stroke-width="0.4"/><rect x="518.96" y="286.30" width="1.73" height="7.20" fill="#22fafa" stroke="#033" stroke-width="0.4"/><rect x="517.63" y="286.30" width="1.33" height="7.20" fill="#15a6a6" stroke="#022" stroke-width="0.4"/><rect x="520.29" y="282.70" width="1.73" height="10.80" fill="#22fafa" stroke="#033" stroke-width="0.4"/><rect x="518.96" y="282.70" width="1.33" height="10.80" fill="#15a6a6" stroke="#022" stroke-width="0.4"/><rect x="521.62" y="279.10" width="1.73" height="14.40" fill="#22fafa" stroke="#033" stroke-width="0.4"/><rect x="520.29" y="279.10" width="1.33" height="14.40" fill="#15a6a6" stroke="#022" stroke-width="0.4"/><rect x="522.95" y="275.50" width="1.73" height="18.00" fill="#22fafa" stroke="#033" stroke-width="0.4"/><rect x="521.62" y="275.50" width="1.33" height="18.00" fill="#15a6a6" stroke="#022" stroke-width="0.4"/><rect x="524.28" y="279.10" width="1.73" height="14.40" fill="#22fafa" stroke="#033" stroke-width="0.4"/><rect x="522.95" y="279.10" width="1.33" height="14.40" fill="#15a6a6" stroke="#022" stroke-width="0.4"/><rect x="525.61" y="282.70" width="1.73" height="10.80" fill="#22fafa" stroke="#033" stroke-width="0.4"/><rect x="524.28" y="282.70" width="1.33" height="10.80" fill="#15a6a6" stroke="#022" stroke-width="0.4"/><rect x="526.94" y="286.30" width="1.73" height="7.20" fill="#22fafa" stroke="#033" stroke-width="0.4"/><rect x="525.61" y="286.30" width="1.33" height="7.20" fill="#15a6a6" stroke="#022" stroke-width="0.4"/><rect x="528.27" y="289.90" width="1.73" height="3.60" fill="#22fafa" stroke="#033" stroke-width="0.4"/><rect x="526.94" y="289.90" width="1.33" height="3.60" fill="#15a6a6" stroke="#022" stroke-width="0.4"/><rect x="546.06" y="290.14" width="1.77" height="3.36" fill="#22fafa" stroke="#033" stroke-width="0.4"/><rect x="544.70" y="290.14" width="1.36" height="3.36" fill="#15a6a6" stroke="#022" stroke-width="0.4"/><rect x="547.42" y="286.78" width="1.77" height="6.72" fill="#22fafa" stroke="#033" stroke-width="0.4"/><rect x="546.06" y="286.78" width="1.36" height="6.72" fill="#15a6a6" stroke="#022" stroke-width="0.4"/><rect x="548.78" y="283.42" width="1.77" height="10.08" fill="#22fafa" stroke="#033" stroke-width="0.4"/><rect x="547.42" y="283.42" width="1.36" height="10.08" fill="#15a6a6" stroke="#022" stroke-width="0.4"/><rect x="550.14" y="280.06" width="1.77" height="13.44" fill="#22fafa" stroke="#033" stroke-width="0.4"/><rect x="548.78" y="280.06" width="1.36" height="13.44" fill="#15a6a6" stroke="#022" stroke-width="0.4"/><rect x="551.50" y="276.70" width="1.77" height="16.80" fill="#22fafa" stroke="#033" stroke-width="0.4"/><rect x="550.14" y="276.70" width="1.36" height="16.80" fill="#15a6a6" stroke="#022" stroke-width="0.4"/><rect x="552.86" y="280.06" width="1.77" height="13.44" fill="#22fafa" stroke="#033" stroke-width="0.4"/><rect x="551.50" y="280.06" width="1.36" height="13.44" fill="#15a6a6" stroke="#022" stroke-width="0.4"/><rect x="554.21" y="283.42" width="1.77" height="10.08" fill="#22fafa" stroke="#033" stroke-width="0.4"/><rect x="552.86" y="283.42" width="1.36" height="10.08" fill="#15a6a6" stroke="#022" stroke-width="0.4"/><rect x="555.57" y="286.78" width="1.77" height="6.72" fill="#22fafa" stroke="#033" stroke-width="0.4"/><rect x="554.21" y="286.78" width="1.36" height="6.72" fill="#15a6a6" stroke="#022" stroke-width="0.4"/><rect x="556.93" y="290.14" width="1.77" height="3.36" fill="#22fafa" stroke="#033" stroke-width="0.4"/><rect x="555.57" y="290.14" width="1.36" height="3.36" fill="#15a6a6" stroke="#022" stroke-width="0.4"/><rect x="482.4" y="141.15" width="189.95000000000005" height="153.04999999999998" fill="none" stroke="#000" stroke-width="1.5"/><line x1="482.4" y1="172.35" x2="672.35" y2="172.35" stroke="#000" stroke-width="1.5"/><line x1="482.4" y1="202.8" x2="672.35" y2="202.8" stroke="#000" stroke-width="1.5"/><line x1="482.4" y1="233.6" x2="672.35" y2="233.6" stroke="#000" stroke-width="1.5"/><line x1="482.4" y1="263.75" x2="672.35" y2="263.75" stroke="#000" stroke-width="1.5"/><line x1="482.4" y1="294.2" x2="482.4" y2="297.4" stroke="#000" stroke-width="1.3"/><line x1="529.8875" y1="294.2" x2="529.8875" y2="297.4" stroke="#000" stroke-width="1.3"/><line x1="577.375" y1="294.2" x2="577.375" y2="297.4" stroke="#000" stroke-width="1.3"/><line x1="624.8625" y1="294.2" x2="624.8625" y2="297.4" stroke="#000" stroke-width="1.3"/><line x1="672.35" y1="294.2" x2="672.35" y2="297.4" stroke="#000" stroke-width="1.3"/><rect x="160.65" y="516.20" width="2.54" height="7.75" fill="#22fafa" stroke="#033" stroke-width="0.4"/><rect x="158.70" y="516.20" width="1.95" height="7.75" fill="#15a6a6" stroke="#022" stroke-width="0.4"/><rect x="162.60" y="516.20" width="2.54" height="7.75" fill="#22fafa" stroke="#033" stroke-width="0.4"/><rect x="160.65" y="516.20" width="1.95" height="7.75" fill="#15a6a6" stroke="#022" stroke-width="0.4"/><rect x="164.56" y="516.20" width="2.54" height="7.75" fill="#22fafa" stroke="#033" stroke-width="0.4"/><rect x="162.60" y="516.20" width="1.95" height="7.75" fill="#15a6a6" stroke="#022" stroke-width="0.4"/><rect x="166.51" y="516.59" width="2.54" height="7.36" fill="#22fafa" stroke="#033" stroke-width="0.4"/><rect x="164.56" y="516.59" width="1.95" height="7.36" fill="#15a6a6" stroke="#022" stroke-width="0.4"/><rect x="168.46" y="520.85" width="2.54" height="3.10" fill="#22fafa" stroke="#033" stroke-width="0.4"/><rect x="166.51" y="520.85" width="1.95" height="3.10" fill="#15a6a6" stroke="#022" stroke-width="0.4"/><rect x="214.32" y="520.62" width="1.85" height="3.32" fill="#22fafa" stroke="#033" stroke-width="0.4"/><rect x="212.90" y="520.62" width="1.42" height="3.32" fill="#15a6a6" stroke="#022" stroke-width="0.4"/><rect x="215.75" y="517.30" width="1.85" height="6.65" fill="#22fafa" stroke="#033" stroke-width="0.4"/><rect x="214.32" y="517.30" width="1.42" height="6.65" fill="#15a6a6" stroke="#022" stroke-width="0.4"/><rect x="217.17" y="513.97" width="1.85" height="9.97" fill="#22fafa" stroke="#033" stroke-width="0.4"/><rect x="215.75" y="513.97" width="1.42" height="9.97" fill="#15a6a6" stroke="#022" stroke-width="0.4"/><rect x="218.59" y="510.65" width="1.85" height="13.30" fill="#22fafa" stroke="#033" stroke-width="0.4"/><rect x="217.17" y="510.65" width="1.42" height="13.30" fill="#15a6a6" stroke="#022" stroke-width="0.4"/><rect x="220.01" y="507.32" width="1.85" height="16.62" fill="#22fafa" stroke="#033" stroke-width="0.4"/><rect x="218.59" y="507.32" width="1.42" height="16.62" fill="#15a6a6" stroke="#022" stroke-width="0.4"/><rect x="221.44" y="504.00" width="1.85" height="19.95" fill="#22fafa" stroke="#033" stroke-width="0.4"/><rect x="220.01" y="504.00" width="1.42" height="19.95" fill="#15a6a6" stroke="#022" stroke-width="0.4"/><rect x="222.86" y="507.32" width="1.85" height="16.62" fill="#22fafa" stroke="#033" stroke-width="0.4"/><rect x="221.44" y="507.32" width="1.42" height="16.62" fill="#15a6a6" stroke="#022" stroke-width="0.4"/><rect x="224.28" y="510.65" width="1.85" height="13.30" fill="#22fafa" stroke="#033" stroke-width="0.4"/><rect x="222.86" y="510.65" width="1.42" height="13.30" fill="#15a6a6" stroke="#022" stroke-width="0.4"/><rect x="225.70" y="513.97" width="1.85" height="9.97" fill="#22fafa" stroke="#033" stroke-width="0.4"/><rect x="224.28" y="513.97" width="1.42" height="9.97" fill="#15a6a6" stroke="#022" stroke-width="0.4"/><rect x="227.13" y="517.30" width="1.85" height="6.65" fill="#22fafa" stroke="#033" stroke-width="0.4"/><rect x="225.70" y="517.30" width="1.42" height="6.65" fill="#15a6a6" stroke="#022" stroke-width="0.4"/><rect x="228.55" y="520.62" width="1.85" height="3.32" fill="#22fafa" stroke="#033" stroke-width="0.4"/><rect x="227.13" y="520.62" width="1.42" height="3.32" fill="#15a6a6" stroke="#022" stroke-width="0.4"/><rect x="151.39" y="551.50" width="1.81" height="2.70" fill="#22fafa" stroke="#033" stroke-width="0.4"/><rect x="150.00" y="551.50" width="1.39" height="2.70" fill="#15a6a6" stroke="#022" stroke-width="0.4"/><rect x="152.78" y="548.80" width="1.81" height="5.40" fill="#22fafa" stroke="#033" stroke-width="0.4"/><rect x="151.39" y="548.80" width="1.39" height="5.40" fill="#15a6a6" stroke="#022" stroke-width="0.4"/><rect x="154.17" y="546.10" width="1.81" height="8.10" fill="#22fafa" stroke="#033" stroke-width="0.4"/><rect x="152.78" y="546.10" width="1.39" height="8.10" fill="#15a6a6" stroke="#022" stroke-width="0.4"/><rect x="155.56" y="543.40" width="1.81" height="10.80" fill="#22fafa" stroke="#033" stroke-width="0.4"/><rect x="154.17" y="543.40" width="1.39" height="10.80" fill="#15a6a6" stroke="#022" stroke-width="0.4"/><rect x="156.95" y="540.70" width="1.81" height="13.50" fill="#22fafa" stroke="#033" stroke-width="0.4"/><rect x="155.56" y="540.70" width="1.39" height="13.50" fill="#15a6a6" stroke="#022" stroke-width="0.4"/><rect x="158.34" y="540.70" width="1.81" height="13.50" fill="#22fafa" stroke="#033" stroke-width="0.4"/><rect x="156.95" y="540.70" width="1.39" height="13.50" fill="#15a6a6" stroke="#022" stroke-width="0.4"/><rect x="159.73" y="543.40" width="1.81" height="10.80" fill="#22fafa" stroke="#033" stroke-width="0.4"/><rect x="158.34" y="543.40" width="1.39" height="10.80" fill="#15a6a6" stroke="#022" stroke-width="0.4"/><rect x="161.12" y="546.10" width="1.81" height="8.10" fill="#22fafa" stroke="#033" stroke-width="0.4"/><rect x="159.73" y="546.10" width="1.39" height="8.10" fill="#15a6a6" stroke="#022" stroke-width="0.4"/><rect x="162.50" y="548.80" width="1.81" height="5.40" fill="#22fafa" stroke="#033" stroke-width="0.4"/><rect x="161.12" y="548.80" width="1.39" height="5.40" fill="#15a6a6" stroke="#022" stroke-width="0.4"/><rect x="163.89" y="551.50" width="1.81" height="2.70" fill="#22fafa" stroke="#033" stroke-width="0.4"/><rect x="162.50" y="551.50" width="1.39" height="2.70" fill="#15a6a6" stroke="#022" stroke-width="0.4"/><rect x="199.46" y="551.08" width="1.77" height="3.12" fill="#22fafa" stroke="#033" stroke-width="0.4"/><rect x="198.10" y="551.08" width="1.36" height="3.12" fill="#15a6a6" stroke="#022" stroke-width="0.4"/><rect x="200.82" y="547.97" width="1.77" height="6.23" fill="#22fafa" stroke="#033" stroke-width="0.4"/><rect x="199.46" y="547.97" width="1.36" height="6.23" fill="#15a6a6" stroke="#022" stroke-width="0.4"/><rect x="202.17" y="544.85" width="1.77" height="9.35" fill="#22fafa" stroke="#033" stroke-width="0.4"/><rect x="200.82" y="544.85" width="1.36" height="9.35" fill="#15a6a6" stroke="#022" stroke-width="0.4"/><rect x="203.53" y="541.73" width="1.77" height="12.47" fill="#22fafa" stroke="#033" stroke-width="0.4"/><rect x="202.17" y="541.73" width="1.36" height="12.47" fill="#15a6a6" stroke="#022" stroke-width="0.4"/><rect x="204.89" y="538.62" width="1.77" height="15.58" fill="#22fafa" stroke="#033" stroke-width="0.4"/><rect x="203.53" y="538.62" width="1.36" height="15.58" fill="#15a6a6" stroke="#022" stroke-width="0.4"/><rect x="206.25" y="535.50" width="1.77" height="18.70" fill="#22fafa" stroke="#033" stroke-width="0.4"/><rect x="204.89" y="535.50" width="1.36" height="18.70" fill="#15a6a6" stroke="#022" stroke-width="0.4"/><rect x="207.60" y="538.62" width="1.77" height="15.58" fill="#22fafa" stroke="#033" stroke-width="0.4"/><rect x="206.25" y="538.62" width="1.36" height="15.58" fill="#15a6a6" stroke="#022" stroke-width="0.4"/><rect x="208.96" y="541.73" width="1.77" height="12.47" fill="#22fafa" stroke="#033" stroke-width="0.4"/><rect x="207.60" y="541.73" width="1.36" height="12.47" fill="#15a6a6" stroke="#022" stroke-width="0.4"/><rect x="210.32" y="544.85" width="1.77" height="9.35" fill="#22fafa" stroke="#033" stroke-width="0.4"/><rect x="208.96" y="544.85" width="1.36" height="9.35" fill="#15a6a6" stroke="#022" stroke-width="0.4"/><rect x="211.68" y="547.97" width="1.77" height="6.23" fill="#22fafa" stroke="#033" stroke-width="0.4"/><rect x="210.32" y="547.97" width="1.36" height="6.23" fill="#15a6a6" stroke="#022" stroke-width="0.4"/><rect x="213.03" y="551.08" width="1.77" height="3.12" fill="#22fafa" stroke="#033" stroke-width="0.4"/><rect x="211.68" y="551.08" width="1.36" height="3.12" fill="#15a6a6" stroke="#022" stroke-width="0.4"/><line x1="269.8" y1="584.3" x2="269.8" y2="565.7" stroke="#0a3a3a" stroke-width="1.2"/><rect x="231.82" y="613.64" width="1.85" height="1.56" fill="#22fafa" stroke="#033" stroke-width="0.4"/><rect x="230.40" y="613.64" width="1.42" height="1.56" fill="#15a6a6" stroke="#022" stroke-width="0.4"/><rect x="233.25" y="612.08" width="1.85" height="3.12" fill="#22fafa" stroke="#033" stroke-width="0.4"/><rect x="231.82" y="612.08" width="1.42" height="3.12" fill="#15a6a6" stroke="#022" stroke-width="0.4"/><rect x="234.67" y="610.52" width="1.85" height="4.68" fill="#22fafa" stroke="#033" stroke-width="0.4"/><rect x="233.25" y="610.52" width="1.42" height="4.68" fill="#15a6a6" stroke="#022" stroke-width="0.4"/><rect x="236.10" y="608.96" width="1.85" height="6.24" fill="#22fafa" stroke="#033" stroke-width="0.4"/><rect x="234.67" y="608.96" width="1.42" height="6.24" fill="#15a6a6" stroke="#022" stroke-width="0.4"/><rect x="237.52" y="607.40" width="1.85" height="7.80" fill="#22fafa" stroke="#033" stroke-width="0.4"/><rect x="236.10" y="607.40" width="1.42" height="7.80" fill="#15a6a6" stroke="#022" stroke-width="0.4"/><rect x="238.95" y="607.40" width="1.85" height="7.80" fill="#22fafa" stroke="#033" stroke-width="0.4"/><rect x="237.52" y="607.40" width="1.42" height="7.80" fill="#15a6a6" stroke="#022" stroke-width="0.4"/><rect x="240.37" y="608.96" width="1.85" height="6.24" fill="#22fafa" stroke="#033" stroke-width="0.4"/><rect x="238.95" y="608.96" width="1.42" height="6.24" fill="#15a6a6" stroke="#022" stroke-width="0.4"/><rect x="241.80" y="610.52" width="1.85" height="4.68" fill="#22fafa" stroke="#033" stroke-width="0.4"/><rect x="240.37" y="610.52" width="1.42" height="4.68" fill="#15a6a6" stroke="#022" stroke-width="0.4"/><rect x="243.22" y="612.08" width="1.85" height="3.12" fill="#22fafa" stroke="#033" stroke-width="0.4"/><rect x="241.80" y="612.08" width="1.42" height="3.12" fill="#15a6a6" stroke="#022" stroke-width="0.4"/><rect x="244.65" y="613.64" width="1.85" height="1.56" fill="#22fafa" stroke="#033" stroke-width="0.4"/><rect x="243.22" y="613.64" width="1.42" height="1.56" fill="#15a6a6" stroke="#022" stroke-width="0.4"/><rect x="256.35" y="612.00" width="1.76" height="3.20" fill="#22fafa" stroke="#033" stroke-width="0.4"/><rect x="255.00" y="612.00" width="1.35" height="3.20" fill="#15a6a6" stroke="#022" stroke-width="0.4"/><rect x="257.71" y="608.80" width="1.76" height="6.40" fill="#22fafa" stroke="#033" stroke-width="0.4"/><rect x="256.35" y="608.80" width="1.35" height="6.40" fill="#15a6a6" stroke="#022" stroke-width="0.4"/><rect x="259.06" y="605.60" width="1.76" height="9.60" fill="#22fafa" stroke="#033" stroke-width="0.4"/><rect x="257.71" y="605.60" width="1.35" height="9.60" fill="#15a6a6" stroke="#022" stroke-width="0.4"/><rect x="260.41" y="602.40" width="1.76" height="12.80" fill="#22fafa" stroke="#033" stroke-width="0.4"/><rect x="259.06" y="602.40" width="1.35" height="12.80" fill="#15a6a6" stroke="#022" stroke-width="0.4"/><rect x="261.77" y="599.20" width="1.76" height="16.00" fill="#22fafa" stroke="#033" stroke-width="0.4"/><rect x="260.41" y="599.20" width="1.35" height="16.00" fill="#15a6a6" stroke="#022" stroke-width="0.4"/><rect x="263.12" y="596.00" width="1.76" height="19.20" fill="#22fafa" stroke="#033" stroke-width="0.4"/><rect x="261.77" y="596.00" width="1.35" height="19.20" fill="#15a6a6" stroke="#022" stroke-width="0.4"/><rect x="264.47" y="596.00" width="1.76" height="19.20" fill="#22fafa" stroke="#033" stroke-width="0.4"/><rect x="263.12" y="596.00" width="1.35" height="19.20" fill="#15a6a6" stroke="#022" stroke-width="0.4"/><rect x="265.83" y="599.20" width="1.76" height="16.00" fill="#22fafa" stroke="#033" stroke-width="0.4"/><rect x="264.47" y="599.20" width="1.35" height="16.00" fill="#15a6a6" stroke="#022" stroke-width="0.4"/><rect x="267.18" y="602.40" width="1.76" height="12.80" fill="#22fafa" stroke="#033" stroke-width="0.4"/><rect x="265.83" y="602.40" width="1.35" height="12.80" fill="#15a6a6" stroke="#022" stroke-width="0.4"/><rect x="268.53" y="605.60" width="1.76" height="9.60" fill="#22fafa" stroke="#033" stroke-width="0.4"/><rect x="267.18" y="605.60" width="1.35" height="9.60" fill="#15a6a6" stroke="#022" stroke-width="0.4"/><rect x="269.89" y="608.80" width="1.76" height="6.40" fill="#22fafa" stroke="#033" stroke-width="0.4"/><rect x="268.53" y="608.80" width="1.35" height="6.40" fill="#15a6a6" stroke="#022" stroke-width="0.4"/><rect x="271.24" y="612.00" width="1.76" height="3.20" fill="#22fafa" stroke="#033" stroke-width="0.4"/><rect x="269.89" y="612.00" width="1.35" height="3.20" fill="#15a6a6" stroke="#022" stroke-width="0.4"/><rect x="163.99" y="642.04" width="1.80" height="3.76" fill="#22fafa" stroke="#033" stroke-width="0.4"/><rect x="162.60" y="642.04" width="1.39" height="3.76" fill="#15a6a6" stroke="#022" stroke-width="0.4"/><rect x="165.38" y="638.28" width="1.80" height="7.52" fill="#22fafa" stroke="#033" stroke-width="0.4"/><rect x="163.99" y="638.28" width="1.39" height="7.52" fill="#15a6a6" stroke="#022" stroke-width="0.4"/><rect x="166.77" y="634.52" width="1.80" height="11.28" fill="#22fafa" stroke="#033" stroke-width="0.4"/><rect x="165.38" y="634.52" width="1.39" height="11.28" fill="#15a6a6" stroke="#022" stroke-width="0.4"/><rect x="168.15" y="630.76" width="1.80" height="15.04" fill="#22fafa" stroke="#033" stroke-width="0.4"/><rect x="166.77" y="630.76" width="1.39" height="15.04" fill="#15a6a6" stroke="#022" stroke-width="0.4"/><rect x="169.54" y="627.00" width="1.80" height="18.80" fill="#22fafa" stroke="#033" stroke-width="0.4"/><rect x="168.15" y="627.00" width="1.39" height="18.80" fill="#15a6a6" stroke="#022" stroke-width="0.4"/><rect x="170.93" y="630.76" width="1.80" height="15.04" fill="#22fafa" stroke="#033" stroke-width="0.4"/><rect x="169.54" y="630.76" width="1.39" height="15.04" fill="#15a6a6" stroke="#022" stroke-width="0.4"/><rect x="172.32" y="634.52" width="1.80" height="11.28" fill="#22fafa" stroke="#033" stroke-width="0.4"/><rect x="170.93" y="634.52" width="1.39" height="11.28" fill="#15a6a6" stroke="#022" stroke-width="0.4"/><rect x="173.71" y="638.28" width="1.80" height="7.52" fill="#22fafa" stroke="#033" stroke-width="0.4"/><rect x="172.32" y="638.28" width="1.39" height="7.52" fill="#15a6a6" stroke="#022" stroke-width="0.4"/><rect x="175.10" y="642.04" width="1.80" height="3.76" fill="#22fafa" stroke="#033" stroke-width="0.4"/><rect x="173.71" y="642.04" width="1.39" height="3.76" fill="#15a6a6" stroke="#022" stroke-width="0.4"/><rect x="200.05" y="642.22" width="1.75" height="3.58" fill="#22fafa" stroke="#033" stroke-width="0.4"/><rect x="198.70" y="642.22" width="1.35" height="3.58" fill="#15a6a6" stroke="#022" stroke-width="0.4"/><rect x="201.39" y="638.64" width="1.75" height="7.16" fill="#22fafa" stroke="#033" stroke-width="0.4"/><rect x="200.05" y="638.64" width="1.35" height="7.16" fill="#15a6a6" stroke="#022" stroke-width="0.4"/><rect x="202.74" y="635.06" width="1.75" height="10.74" fill="#22fafa" stroke="#033" stroke-width="0.4"/><rect x="201.39" y="635.06" width="1.35" height="10.74" fill="#15a6a6" stroke="#022" stroke-width="0.4"/><rect x="204.08" y="631.48" width="1.75" height="14.32" fill="#22fafa" stroke="#033" stroke-width="0.4"/><rect x="202.74" y="631.48" width="1.35" height="14.32" fill="#15a6a6" stroke="#022" stroke-width="0.4"/><rect x="205.43" y="627.90" width="1.75" height="17.90" fill="#22fafa" stroke="#033" stroke-width="0.4"/><rect x="204.08" y="627.90" width="1.35" height="17.90" fill="#15a6a6" stroke="#022" stroke-width="0.4"/><rect x="206.77" y="627.90" width="1.75" height="17.90" fill="#22fafa" stroke="#033" stroke-width="0.4"/><rect x="205.43" y="627.90" width="1.35" height="17.90" fill="#15a6a6" stroke="#022" stroke-width="0.4"/><rect x="208.12" y="631.48" width="1.75" height="14.32" fill="#22fafa" stroke="#033" stroke-width="0.4"/><rect x="206.77" y="631.48" width="1.35" height="14.32" fill="#15a6a6" stroke="#022" stroke-width="0.4"/><rect x="209.46" y="635.06" width="1.75" height="10.74" fill="#22fafa" stroke="#033" stroke-width="0.4"/><rect x="208.12" y="635.06" width="1.35" height="10.74" fill="#15a6a6" stroke="#022" stroke-width="0.4"/><rect x="210.81" y="638.64" width="1.75" height="7.16" fill="#22fafa" stroke="#033" stroke-width="0.4"/><rect x="209.46" y="638.64" width="1.35" height="7.16" fill="#15a6a6" stroke="#022" stroke-width="0.4"/><rect x="212.15" y="642.22" width="1.75" height="3.58" fill="#22fafa" stroke="#033" stroke-width="0.4"/><rect x="210.81" y="642.22" width="1.35" height="3.58" fill="#15a6a6" stroke="#022" stroke-width="0.4"/><rect x="127.45" y="493.2" width="190.35000000000002" height="153.3" fill="none" stroke="#000" stroke-width="1.5"/><line x1="127.45" y1="524.65" x2="317.8" y2="524.65" stroke="#000" stroke-width="1.5"/><line x1="127.45" y1="554.9" x2="317.8" y2="554.9" stroke="#000" stroke-width="1.5"/><line x1="127.45" y1="585.0" x2="317.8" y2="585.0" stroke="#000" stroke-width="1.5"/><line x1="127.45" y1="615.9" x2="317.8" y2="615.9" stroke="#000" stroke-width="1.5"/><line x1="127.45" y1="646.5" x2="127.45" y2="649.7" stroke="#000" stroke-width="1.3"/><line x1="175.03750000000002" y1="646.5" x2="175.03750000000002" y2="649.7" stroke="#000" stroke-width="1.3"/><line x1="222.625" y1="646.5" x2="222.625" y2="649.7" stroke="#000" stroke-width="1.3"/><line x1="270.21250000000003" y1="646.5" x2="270.21250000000003" y2="649.7" stroke="#000" stroke-width="1.3"/><line x1="317.8" y1="646.5" x2="317.8" y2="649.7" stroke="#000" stroke-width="1.3"/><polygon points="365.90,523.95 366.23,511.18 367.24,504.80 370.34,504.30 374.10,523.95" fill="#020a0a"/><rect x="367.54" y="504.65" width="2.80" height="3.23" fill="#18eded" stroke="#011" stroke-width="0.5"/><rect x="368.48" y="508.58" width="2.80" height="3.23" fill="#18eded" stroke="#011" stroke-width="0.5"/><rect x="369.42" y="512.51" width="2.80" height="3.23" fill="#18eded" stroke="#011" stroke-width="0.5"/><rect x="370.36" y="516.44" width="2.80" height="3.23" fill="#18eded" stroke="#011" stroke-width="0.5"/><rect x="371.30" y="520.37" width="2.80" height="3.23" fill="#18eded" stroke="#011" stroke-width="0.5"/><rect x="375.50" y="520.03" width="2.30" height="3.92" fill="#10f2f2" stroke="#022" stroke-width="0.45"/><rect x="375.75" y="520.33" width="0.69" height="3.62" fill="#12b4b4"/><rect x="377.80" y="515.55" width="2.30" height="8.40" fill="#10f2f2" stroke="#022" stroke-width="0.45"/><rect x="378.05" y="515.85" width="0.69" height="8.10" fill="#12b4b4"/><rect x="380.10" y="514.97" width="2.30" height="8.98" fill="#10f2f2" stroke="#022" stroke-width="0.45"/><rect x="380.35" y="515.27" width="0.69" height="8.68" fill="#12b4b4"/><rect x="382.40" y="514.40" width="2.30" height="9.55" fill="#10f2f2" stroke="#022" stroke-width="0.45"/><rect x="382.65" y="514.70" width="0.69" height="9.25" fill="#12b4b4"/><rect x="384.70" y="515.55" width="2.30" height="8.40" fill="#10f2f2" stroke="#022" stroke-width="0.45"/><rect x="384.95" y="515.85" width="0.69" height="8.10" fill="#12b4b4"/><rect x="387.00" y="516.50" width="2.30" height="7.45" fill="#10f2f2" stroke="#022" stroke-width="0.45"/><rect x="387.25" y="516.80" width="0.69" height="7.15" fill="#12b4b4"/><rect x="389.30" y="519.46" width="2.30" height="4.49" fill="#10f2f2" stroke="#022" stroke-width="0.45"/><rect x="389.55" y="519.76" width="0.69" height="4.19" fill="#12b4b4"/><rect x="391.60" y="521.56" width="2.30" height="2.39" fill="#10f2f2" stroke="#022" stroke-width="0.45"/><rect x="391.85" y="521.86" width="0.69" height="2.09" fill="#12b4b4"/><rect x="436.20" y="522.99" width="2.58" height="0.96" fill="#10f2f2" stroke="#022" stroke-width="0.45"/><rect x="436.45" y="523.29" width="0.77" height="0.66" fill="#12b4b4"/><rect x="438.78" y="518.56" width="2.58" height="5.39" fill="#10f2f2" stroke="#022" stroke-width="0.45"/><rect x="439.03" y="518.86" width="0.77" height="5.09" fill="#12b4b4"/><rect x="441.36" y="514.13" width="2.58" height="9.82" fill="#10f2f2" stroke="#022" stroke-width="0.45"/><rect x="441.61" y="514.43" width="0.77" height="9.52" fill="#12b4b4"/><rect x="443.94" y="509.70" width="2.58" height="14.24" fill="#10f2f2" stroke="#022" stroke-width="0.45"/><rect x="444.19" y="510.00" width="0.77" height="13.94" fill="#12b4b4"/><rect x="446.52" y="506.43" width="2.58" height="17.52" fill="#10f2f2" stroke="#022" stroke-width="0.45"/><rect x="446.77" y="506.73" width="0.77" height="17.22" fill="#12b4b4"/><rect x="449.10" y="504.70" width="2.58" height="19.25" fill="#10f2f2" stroke="#022" stroke-width="0.45"/><rect x="449.35" y="505.00" width="0.77" height="18.95" fill="#12b4b4"/><rect x="451.68" y="509.13" width="2.58" height="14.82" fill="#10f2f2" stroke="#022" stroke-width="0.45"/><rect x="451.93" y="509.43" width="0.77" height="14.52" fill="#12b4b4"/><rect x="454.26" y="513.36" width="2.58" height="10.59" fill="#10f2f2" stroke="#022" stroke-width="0.45"/><rect x="454.51" y="513.66" width="0.77" height="10.29" fill="#12b4b4"/><rect x="456.84" y="517.98" width="2.58" height="5.97" fill="#10f2f2" stroke="#022" stroke-width="0.45"/><rect x="457.09" y="518.28" width="0.77" height="5.67" fill="#12b4b4"/><rect x="459.42" y="521.64" width="2.58" height="2.31" fill="#10f2f2" stroke="#022" stroke-width="0.45"/><rect x="459.67" y="521.94" width="0.77" height="2.01" fill="#12b4b4"/><rect x="374.85" y="551.16" width="1.75" height="2.84" fill="#22fafa" stroke="#033" stroke-width="0.4"/><rect x="373.50" y="551.16" width="1.35" height="2.84" fill="#15a6a6" stroke="#022" stroke-width="0.4"/><rect x="376.20" y="548.32" width="1.75" height="5.68" fill="#22fafa" stroke="#033" stroke-width="0.4"/><rect x="374.85" y="548.32" width="1.35" height="5.68" fill="#15a6a6" stroke="#022" stroke-width="0.4"/><rect x="377.55" y="545.48" width="1.75" height="8.52" fill="#22fafa" stroke="#033" stroke-width="0.4"/><rect x="376.20" y="545.48" width="1.35" height="8.52" fill="#15a6a6" stroke="#022" stroke-width="0.4"/><rect x="378.90" y="542.64" width="1.75" height="11.36" fill="#22fafa" stroke="#033" stroke-width="0.4"/><rect x="377.55" y="542.64" width="1.35" height="11.36" fill="#15a6a6" stroke="#022" stroke-width="0.4"/><rect x="380.25" y="539.80" width="1.75" height="14.20" fill="#22fafa" stroke="#033" stroke-width="0.4"/><rect x="378.90" y="539.80" width="1.35" height="14.20" fill="#15a6a6" stroke="#022" stroke-width="0.4"/><rect x="381.60" y="542.64" width="1.75" height="11.36" fill="#22fafa" stroke="#033" stroke-width="0.4"/><rect x="380.25" y="542.64" width="1.35" height="11.36" fill="#15a6a6" stroke="#022" stroke-width="0.4"/><rect x="382.95" y="545.48" width="1.75" height="8.52" fill="#22fafa" stroke="#033" stroke-width="0.4"/><rect x="381.60" y="545.48" width="1.35" height="8.52" fill="#15a6a6" stroke="#022" stroke-width="0.4"/><rect x="384.30" y="548.32" width="1.75" height="5.68" fill="#22fafa" stroke="#033" stroke-width="0.4"/><rect x="382.95" y="548.32" width="1.35" height="5.68" fill="#15a6a6" stroke="#022" stroke-width="0.4"/><rect x="385.65" y="551.16" width="1.75" height="2.84" fill="#22fafa" stroke="#033" stroke-width="0.4"/><rect x="384.30" y="551.16" width="1.35" height="2.84" fill="#15a6a6" stroke="#022" stroke-width="0.4"/><rect x="407.08" y="552.10" width="1.67" height="1.90" fill="#22fafa" stroke="#033" stroke-width="0.4"/><rect x="405.80" y="552.10" width="1.28" height="1.90" fill="#15a6a6" stroke="#022" stroke-width="0.4"/><rect x="408.36" y="550.20" width="1.67" height="3.80" fill="#22fafa" stroke="#033" stroke-width="0.4"/><rect x="407.08" y="550.20" width="1.28" height="3.80" fill="#15a6a6" stroke="#022" stroke-width="0.4"/><rect x="409.64" y="548.30" width="1.67" height="5.70" fill="#22fafa" stroke="#033" stroke-width="0.4"/><rect x="408.36" y="548.30" width="1.28" height="5.70" fill="#15a6a6" stroke="#022" stroke-width="0.4"/><rect x="410.93" y="546.40" width="1.67" height="7.60" fill="#22fafa" stroke="#033" stroke-width="0.4"/><rect x="409.64" y="546.40" width="1.28" height="7.60" fill="#15a6a6" stroke="#022" stroke-width="0.4"/><rect x="412.21" y="544.50" width="1.67" height="9.50" fill="#22fafa" stroke="#033" stroke-width="0.4"/><rect x="410.93" y="544.50" width="1.28" height="9.50" fill="#15a6a6" stroke="#022" stroke-width="0.4"/><rect x="413.49" y="546.40" width="1.67" height="7.60" fill="#22fafa" stroke="#033" stroke-width="0.4"/><rect x="412.21" y="546.40" width="1.28" height="7.60" fill="#15a6a6" stroke="#022" stroke-width="0.4"/><rect x="414.77" y="548.30" width="1.67" height="5.70" fill="#22fafa" stroke="#033" stroke-width="0.4"/><rect x="413.49" y="548.30" width="1.28" height="5.70" fill="#15a6a6" stroke="#022" stroke-width="0.4"/><rect x="416.05" y="550.20" width="1.67" height="3.80" fill="#22fafa" stroke="#033" stroke-width="0.4"/><rect x="414.77" y="550.20" width="1.28" height="3.80" fill="#15a6a6" stroke="#022" stroke-width="0.4"/><rect x="417.33" y="552.10" width="1.67" height="1.90" fill="#22fafa" stroke="#033" stroke-width="0.4"/><rect x="416.05" y="552.10" width="1.28" height="1.90" fill="#15a6a6" stroke="#022" stroke-width="0.4"/><rect x="462.22" y="550.20" width="1.84" height="3.80" fill="#22fafa" stroke="#033" stroke-width="0.4"/><rect x="460.80" y="550.20" width="1.42" height="3.80" fill="#15a6a6" stroke="#022" stroke-width="0.4"/><rect x="463.63" y="546.40" width="1.84" height="7.60" fill="#22fafa" stroke="#033" stroke-width="0.4"/><rect x="462.22" y="546.40" width="1.42" height="7.60" fill="#15a6a6" stroke="#022" stroke-width="0.4"/><rect x="465.05" y="542.60" width="1.84" height="11.40" fill="#22fafa" stroke="#033" stroke-width="0.4"/><rect x="463.63" y="542.60" width="1.42" height="11.40" fill="#15a6a6" stroke="#022" stroke-width="0.4"/><rect x="466.47" y="538.80" width="1.84" height="15.20" fill="#22fafa" stroke="#033" stroke-width="0.4"/><rect x="465.05" y="538.80" width="1.42" height="15.20" fill="#15a6a6" stroke="#022" stroke-width="0.4"/><rect x="467.89" y="535.00" width="1.84" height="19.00" fill="#22fafa" stroke="#033" stroke-width="0.4"/><rect x="466.47" y="535.00" width="1.42" height="19.00" fill="#15a6a6" stroke="#022" stroke-width="0.4"/><rect x="469.30" y="538.80" width="1.84" height="15.20" fill="#22fafa" stroke="#033" stroke-width="0.4"/><rect x="467.89" y="538.80" width="1.42" height="15.20" fill="#15a6a6" stroke="#022" stroke-width="0.4"/><rect x="470.72" y="542.60" width="1.84" height="11.40" fill="#22fafa" stroke="#033" stroke-width="0.4"/><rect x="469.30" y="542.60" width="1.42" height="11.40" fill="#15a6a6" stroke="#022" stroke-width="0.4"/><rect x="472.14" y="546.40" width="1.84" height="7.60" fill="#22fafa" stroke="#033" stroke-width="0.4"/><rect x="470.72" y="546.40" width="1.42" height="7.60" fill="#15a6a6" stroke="#022" stroke-width="0.4"/><rect x="473.56" y="550.20" width="1.84" height="3.80" fill="#22fafa" stroke="#033" stroke-width="0.4"/><rect x="472.14" y="550.20" width="1.42" height="3.80" fill="#15a6a6" stroke="#022" stroke-width="0.4"/><line x1="481.7" y1="585.4" x2="481.7" y2="566.4" stroke="#0a3a3a" stroke-width="1.2"/><line x1="486.4" y1="615.0" x2="486.4" y2="598" stroke="#0a3a3a" stroke-width="1.2"/><ellipse cx="378.85" cy="645.80" rx="3.35" ry="2.20" fill="#0a3434" stroke="#011" stroke-width="0.4"/><polygon points="395.20,645.80 395.57,633.71 397.69,627.70 400.79,627.20 404.50,645.80" fill="#020a0a"/><rect x="397.99" y="627.55" width="2.80" height="3.02" fill="#18eded" stroke="#011" stroke-width="0.5"/><rect x="398.92" y="631.27" width="2.80" height="3.02" fill="#18eded" stroke="#011" stroke-width="0.5"/><rect x="399.85" y="634.99" width="2.80" height="3.02" fill="#18eded" stroke="#011" stroke-width="0.5"/><rect x="400.77" y="638.71" width="2.80" height="3.02" fill="#18eded" stroke="#011" stroke-width="0.5"/><rect x="401.70" y="642.43" width="2.80" height="3.02" fill="#18eded" stroke="#011" stroke-width="0.5"/><polygon points="431.00,645.80 431.37,634.23 433.46,628.50 436.56,628.00 440.20,645.80" fill="#0a3a3a"/><rect x="433.76" y="628.35" width="2.80" height="2.86" fill="#18eded" stroke="#011" stroke-width="0.5"/><rect x="434.67" y="631.91" width="2.80" height="2.86" fill="#18eded" stroke="#011" stroke-width="0.5"/><rect x="435.58" y="635.47" width="2.80" height="2.86" fill="#18eded" stroke="#011" stroke-width="0.5"/><rect x="436.49" y="639.03" width="2.80" height="2.86" fill="#18eded" stroke="#011" stroke-width="0.5"/><rect x="437.40" y="642.59" width="2.80" height="2.86" fill="#18eded" stroke="#011" stroke-width="0.5"/><rect x="351.35" y="493.1" width="190.29999999999995" height="153.39999999999998" fill="none" stroke="#000" stroke-width="1.5"/><line x1="351.35" y1="524.65" x2="541.65" y2="524.65" stroke="#000" stroke-width="1.5"/><line x1="351.35" y1="554.7" x2="541.65" y2="554.7" stroke="#000" stroke-width="1.5"/><line x1="351.35" y1="586.1" x2="541.65" y2="586.1" stroke="#000" stroke-width="1.5"/><line x1="351.35" y1="615.7" x2="541.65" y2="615.7" stroke="#000" stroke-width="1.5"/><line x1="351.35" y1="646.5" x2="351.35" y2="649.7" stroke="#000" stroke-width="1.3"/><line x1="398.925" y1="646.5" x2="398.925" y2="649.7" stroke="#000" stroke-width="1.3"/><line x1="446.5" y1="646.5" x2="446.5" y2="649.7" stroke="#000" stroke-width="1.3"/><line x1="494.075" y1="646.5" x2="494.075" y2="649.7" stroke="#000" stroke-width="1.3"/><line x1="541.65" y1="646.5" x2="541.65" y2="649.7" stroke="#000" stroke-width="1.3"/>
<text transform="translate(6.50,19.50) scale(1.0,1)" text-anchor="start" font-size="22" font-weight="normal" fill="#f6f6f6" stroke="#f6f6f6" stroke-width="0.3">a</text><text transform="translate(77.80,29.30) scale(1.0,1)" text-anchor="start" font-size="11.5" font-weight="bold" fill="#ececE6" stroke="#ececE6" stroke-width="0.45">Turbidity (NTU)</text><text transform="translate(41.20,52.00) scale(1.0,1)" text-anchor="middle" font-size="12.9" font-weight="bold" fill="#fbfbfb" stroke="#fbfbfb" stroke-width="0.6">0.7</text><text transform="translate(78.40,52.00) scale(1.0,1)" text-anchor="middle" font-size="12.9" font-weight="bold" fill="#fbfbfb" stroke="#fbfbfb" stroke-width="0.6">0.8</text><text transform="translate(118.70,52.00) scale(1.0,1)" text-anchor="middle" font-size="12.9" font-weight="bold" fill="#fbfbfb" stroke="#fbfbfb" stroke-width="0.6">&gt;Max</text><text transform="translate(156.90,52.00) scale(1.0,1)" text-anchor="middle" font-size="12.9" font-weight="bold" fill="#fbfbfb" stroke="#fbfbfb" stroke-width="0.6">&gt;Max</text><text transform="translate(192.70,52.00) scale(1.0,1)" text-anchor="middle" font-size="12.9" font-weight="bold" fill="#fbfbfb" stroke="#fbfbfb" stroke-width="0.6">1.2</text><text transform="translate(43.10,131.80) scale(1.0,1)" text-anchor="middle" font-size="12.6" font-weight="bold" fill="#f6f6f6" stroke="#f6f6f6" stroke-width="0.6">pH=8</text><text transform="translate(81.00,131.80) scale(1.0,1)" text-anchor="middle" font-size="12.6" font-weight="bold" fill="#f6f6f6" stroke="#f6f6f6" stroke-width="0.6">pH=6</text><text transform="translate(120.00,131.80) scale(1.0,1)" text-anchor="middle" font-size="12.6" font-weight="bold" fill="#f6f6f6" stroke="#f6f6f6" stroke-width="0.6">pH=pI</text><text transform="translate(158.10,131.80) scale(1.0,1)" text-anchor="middle" font-size="12.6" font-weight="bold" fill="#f6f6f6" stroke="#f6f6f6" stroke-width="0.6">pH=4</text><text transform="translate(195.30,131.80) scale(1.0,1)" text-anchor="middle" font-size="12.6" font-weight="bold" fill="#f6f6f6" stroke="#f6f6f6" stroke-width="0.6">pH=2</text><text transform="translate(235.30,21.90) scale(1.0,1)" text-anchor="start" font-size="23.5" font-weight="normal" fill="#f6f6f6" stroke="#f6f6f6" stroke-width="0.3">b</text><text transform="translate(304.60,31.80) scale(1.0,1)" text-anchor="start" font-size="11.5" font-weight="bold" fill="#ececE6" stroke="#ececE6" stroke-width="0.45">Turbidity (NTU)</text><text transform="translate(267.30,54.40) scale(1.0,1)" text-anchor="middle" font-size="12.9" font-weight="bold" fill="#fbfbfb" stroke="#fbfbfb" stroke-width="0.6">0.7</text><text transform="translate(304.90,54.40) scale(1.0,1)" text-anchor="middle" font-size="12.9" font-weight="bold" fill="#fbfbfb" stroke="#fbfbfb" stroke-width="0.6">0.7</text><text transform="translate(345.40,54.40) scale(1.0,1)" text-anchor="middle" font-size="12.9" font-weight="bold" fill="#fbfbfb" stroke="#fbfbfb" stroke-width="0.6">&gt;Max</text><text transform="translate(381.40,54.40) scale(1.0,1)" text-anchor="middle" font-size="12.9" font-weight="bold" fill="#fbfbfb" stroke="#fbfbfb" stroke-width="0.6">924</text><text transform="translate(418.80,54.40) scale(1.0,1)" text-anchor="middle" font-size="12.9" font-weight="bold" fill="#fbfbfb" stroke="#fbfbfb" stroke-width="0.6">0.5</text><text transform="translate(267.60,132.60) scale(1.0,1)" text-anchor="middle" font-size="12.6" font-weight="bold" fill="#f6f6f6" stroke="#f6f6f6" stroke-width="0.6">pH=8</text><text transform="translate(305.90,132.60) scale(1.0,1)" text-anchor="middle" font-size="12.6" font-weight="bold" fill="#f6f6f6" stroke="#f6f6f6" stroke-width="0.6">pH=6</text><text transform="translate(344.90,132.60) scale(1.0,1)" text-anchor="middle" font-size="12.6" font-weight="bold" fill="#f6f6f6" stroke="#f6f6f6" stroke-width="0.6">pH=pI</text><text transform="translate(381.50,132.60) scale(1.0,1)" text-anchor="middle" font-size="12.6" font-weight="bold" fill="#f6f6f6" stroke="#f6f6f6" stroke-width="0.6">pH=4</text><text transform="translate(417.30,132.60) scale(1.0,1)" text-anchor="middle" font-size="12.6" font-weight="bold" fill="#f6f6f6" stroke="#f6f6f6" stroke-width="0.6">pH=2</text><text transform="translate(462.30,19.20) scale(1.0,1)" text-anchor="start" font-size="23.5" font-weight="normal" fill="#f6f6f6" stroke="#f6f6f6" stroke-width="0.3">c</text><text transform="translate(533.00,31.80) scale(1.0,1)" text-anchor="start" font-size="11.5" font-weight="bold" fill="#ececE6" stroke="#ececE6" stroke-width="0.45">Turbidity (NTU)</text><text transform="translate(496.90,54.60) scale(1.0,1)" text-anchor="middle" font-size="12.9" font-weight="bold" fill="#fbfbfb" stroke="#fbfbfb" stroke-width="0.6">0.4</text><text transform="translate(533.60,54.60) scale(1.0,1)" text-anchor="middle" font-size="12.9" font-weight="bold" fill="#fbfbfb" stroke="#fbfbfb" stroke-width="0.6">0.4</text><text transform="translate(572.40,54.60) scale(1.0,1)" text-anchor="middle" font-size="12.9" font-weight="bold" fill="#fbfbfb" stroke="#fbfbfb" stroke-width="0.6">74.4</text><text transform="translate(610.80,54.60) scale(1.0,1)" text-anchor="middle" font-size="12.9" font-weight="bold" fill="#fbfbfb" stroke="#fbfbfb" stroke-width="0.6">293.3</text><text transform="translate(648.80,54.60) scale(1.0,1)" text-anchor="middle" font-size="12.9" font-weight="bold" fill="#fbfbfb" stroke="#fbfbfb" stroke-width="0.6">0.5</text><text transform="translate(496.50,132.60) scale(1.0,1)" text-anchor="middle" font-size="12.6" font-weight="bold" fill="#f6f6f6" stroke="#f6f6f6" stroke-width="0.6">pH=8</text><text transform="translate(534.20,132.60) scale(1.0,1)" text-anchor="middle" font-size="12.6" font-weight="bold" fill="#f6f6f6" stroke="#f6f6f6" stroke-width="0.6">pH=6</text><text transform="translate(573.30,132.60) scale(1.0,1)" text-anchor="middle" font-size="12.6" font-weight="bold" fill="#f6f6f6" stroke="#f6f6f6" stroke-width="0.6">pH=pI</text><text transform="translate(610.00,132.60) scale(1.0,1)" text-anchor="middle" font-size="12.6" font-weight="bold" fill="#f6f6f6" stroke="#f6f6f6" stroke-width="0.6">pH=4</text><text transform="translate(646.30,132.60) scale(1.0,1)" text-anchor="middle" font-size="12.6" font-weight="bold" fill="#f6f6f6" stroke="#f6f6f6" stroke-width="0.6">pH=2</text><text transform="translate(106.50,373.90) scale(1.0,1)" text-anchor="start" font-size="23.5" font-weight="normal" fill="#f6f6f6" stroke="#f6f6f6" stroke-width="0.3">d</text><text transform="translate(169.00,383.80) scale(1.0,1)" text-anchor="start" font-size="11.5" font-weight="bold" fill="#ececE6" stroke="#ececE6" stroke-width="0.45">Turbidity (NTU)</text><text transform="translate(131.30,406.40) scale(1.0,1)" text-anchor="middle" font-size="12.9" font-weight="bold" fill="#fbfbfb" stroke="#fbfbfb" stroke-width="0.6">1.1</text><text transform="translate(170.30,406.40) scale(1.0,1)" text-anchor="middle" font-size="12.9" font-weight="bold" fill="#fbfbfb" stroke="#fbfbfb" stroke-width="0.6">1.2</text><text transform="translate(209.80,406.40) scale(1.0,1)" text-anchor="middle" font-size="12.9" font-weight="bold" fill="#fbfbfb" stroke="#fbfbfb" stroke-width="0.6">83.3</text><text transform="translate(250.20,406.40) scale(1.0,1)" text-anchor="middle" font-size="12.9" font-weight="bold" fill="#fbfbfb" stroke="#fbfbfb" stroke-width="0.6">241.7</text><text transform="translate(290.40,406.40) scale(1.0,1)" text-anchor="middle" font-size="12.9" font-weight="bold" fill="#fbfbfb" stroke="#fbfbfb" stroke-width="0.6">1.3</text><text transform="translate(131.90,486.90) scale(1.0,1)" text-anchor="middle" font-size="12.6" font-weight="bold" fill="#f6f6f6" stroke="#f6f6f6" stroke-width="0.6">pH=8</text><text transform="translate(170.90,486.90) scale(1.0,1)" text-anchor="middle" font-size="12.6" font-weight="bold" fill="#f6f6f6" stroke="#f6f6f6" stroke-width="0.6">pH=6</text><text transform="translate(209.80,486.90) scale(1.0,1)" text-anchor="middle" font-size="12.6" font-weight="bold" fill="#f6f6f6" stroke="#f6f6f6" stroke-width="0.6">pH=pI</text><text transform="translate(250.10,486.90) scale(1.0,1)" text-anchor="middle" font-size="12.6" font-weight="bold" fill="#f6f6f6" stroke="#f6f6f6" stroke-width="0.6">pH=4</text><text transform="translate(290.40,486.90) scale(1.0,1)" text-anchor="middle" font-size="12.6" font-weight="bold" fill="#f6f6f6" stroke="#f6f6f6" stroke-width="0.6">pH=2</text><text transform="translate(333.50,372.00) scale(1.0,1)" text-anchor="start" font-size="24" font-weight="normal" fill="#f6f6f6" stroke="#f6f6f6" stroke-width="0.3">e</text><text transform="translate(402.60,380.70) scale(1.0,1)" text-anchor="start" font-size="11.5" font-weight="bold" fill="#ececE6" stroke="#ececE6" stroke-width="0.45">Turbidity (NTU)</text><text transform="translate(365.60,403.50) scale(1.0,1)" text-anchor="middle" font-size="12.9" font-weight="bold" fill="#fbfbfb" stroke="#fbfbfb" stroke-width="0.6">1.4</text><text transform="translate(403.30,403.50) scale(1.0,1)" text-anchor="middle" font-size="12.9" font-weight="bold" fill="#fbfbfb" stroke="#fbfbfb" stroke-width="0.6">1.0</text><text transform="translate(443.20,403.50) scale(1.0,1)" text-anchor="middle" font-size="12.9" font-weight="bold" fill="#fbfbfb" stroke="#fbfbfb" stroke-width="0.6">&gt;Max</text><text transform="translate(479.20,403.50) scale(1.0,1)" text-anchor="middle" font-size="12.9" font-weight="bold" fill="#fbfbfb" stroke="#fbfbfb" stroke-width="0.6">987</text><text transform="translate(515.90,403.50) scale(1.0,1)" text-anchor="middle" font-size="12.9" font-weight="bold" fill="#fbfbfb" stroke="#fbfbfb" stroke-width="0.6">1.2</text><text transform="translate(366.50,482.90) scale(1.0,1)" text-anchor="middle" font-size="12.6" font-weight="bold" fill="#f6f6f6" stroke="#f6f6f6" stroke-width="0.6">pH=8</text><text transform="translate(404.40,482.90) scale(1.0,1)" text-anchor="middle" font-size="12.6" font-weight="bold" fill="#f6f6f6" stroke="#f6f6f6" stroke-width="0.6">pH=6</text><text transform="translate(442.20,482.90) scale(1.0,1)" text-anchor="middle" font-size="12.6" font-weight="bold" fill="#f6f6f6" stroke="#f6f6f6" stroke-width="0.6">pH=4</text><text transform="translate(480.30,482.90) scale(1.0,1)" text-anchor="middle" font-size="12.6" font-weight="bold" fill="#f6f6f6" stroke="#f6f6f6" stroke-width="0.6">pH=pI</text><text transform="translate(517.20,482.90) scale(1.0,1)" text-anchor="middle" font-size="12.6" font-weight="bold" fill="#f6f6f6" stroke="#f6f6f6" stroke-width="0.6">pH=2</text><text transform="translate(25.55,311.50) scale(0.97,1)" text-anchor="middle" font-size="13.3" font-weight="bold" fill="#000" stroke="#000" stroke-width="0.2">10<tspan dy="-5.9" font-size="8.6">0</tspan></text><text transform="translate(73.14,311.50) scale(0.97,1)" text-anchor="middle" font-size="13.3" font-weight="bold" fill="#000" stroke="#000" stroke-width="0.2">10<tspan dy="-5.9" font-size="8.6">1</tspan></text><text transform="translate(120.72,311.50) scale(0.97,1)" text-anchor="middle" font-size="13.3" font-weight="bold" fill="#000" stroke="#000" stroke-width="0.2">10<tspan dy="-5.9" font-size="8.6">2</tspan></text><text transform="translate(168.31,311.50) scale(0.97,1)" text-anchor="middle" font-size="13.3" font-weight="bold" fill="#000" stroke="#000" stroke-width="0.2">10<tspan dy="-5.9" font-size="8.6">3</tspan></text><text transform="translate(215.90,311.50) scale(0.97,1)" text-anchor="middle" font-size="13.3" font-weight="bold" fill="#000" stroke="#000" stroke-width="0.2">10<tspan dy="-5.9" font-size="8.6">4</tspan></text><text transform="translate(213.15,152.65) scale(1.08,1)" text-anchor="end" font-size="10.6" font-weight="bold" fill="#000" stroke="#000" stroke-width="0.3">pH=8 D<tspan dy="2.4">h</tspan><tspan dy="-2.4"> 21 nm</tspan></text><text transform="translate(213.15,183.50) scale(1.08,1)" text-anchor="end" font-size="10.6" font-weight="bold" fill="#000" stroke="#000" stroke-width="0.3">pH=6 D<tspan dy="2.4">h</tspan><tspan dy="-2.4"> 17 nm</tspan></text><text transform="translate(213.15,213.60) scale(1.08,1)" text-anchor="end" font-size="10.6" font-weight="bold" fill="#000" stroke="#000" stroke-width="0.3">pH=pI D<tspan dy="2.4">h</tspan><tspan dy="-2.4"> 2596 nm</tspan></text><text transform="translate(213.15,244.45) scale(1.08,1)" text-anchor="end" font-size="10.6" font-weight="bold" fill="#000" stroke="#000" stroke-width="0.3">pH=4 D<tspan dy="2.4">h</tspan><tspan dy="-2.4"> 598 nm</tspan></text><text transform="translate(213.15,275.05) scale(1.08,1)" text-anchor="end" font-size="10.6" font-weight="bold" fill="#000" stroke="#000" stroke-width="0.3">pH=2 D<tspan dy="2.4">h</tspan><tspan dy="-2.4"> 19 nm</tspan></text><text transform="translate(120.42,330.90) scale(1.02,1)" text-anchor="middle" font-size="14" font-weight="bold" fill="#000" stroke="#000" stroke-width="0.2">Diameter (nm)</text><text transform="translate(17.45,216.92) rotate(-90) scale(1.05,1)" text-anchor="middle" font-size="14" font-weight="bold" fill="#000" stroke="#000" stroke-width="0.2">Intensity (%)</text><text transform="translate(254.65,311.50) scale(0.97,1)" text-anchor="middle" font-size="13.3" font-weight="bold" fill="#000" stroke="#000" stroke-width="0.2">10<tspan dy="-5.9" font-size="8.6">0</tspan></text><text transform="translate(302.14,311.50) scale(0.97,1)" text-anchor="middle" font-size="13.3" font-weight="bold" fill="#000" stroke="#000" stroke-width="0.2">10<tspan dy="-5.9" font-size="8.6">1</tspan></text><text transform="translate(349.62,311.50) scale(0.97,1)" text-anchor="middle" font-size="13.3" font-weight="bold" fill="#000" stroke="#000" stroke-width="0.2">10<tspan dy="-5.9" font-size="8.6">2</tspan></text><text transform="translate(397.11,311.50) scale(0.97,1)" text-anchor="middle" font-size="13.3" font-weight="bold" fill="#000" stroke="#000" stroke-width="0.2">10<tspan dy="-5.9" font-size="8.6">3</tspan></text><text transform="translate(444.60,311.50) scale(0.97,1)" text-anchor="middle" font-size="13.3" font-weight="bold" fill="#000" stroke="#000" stroke-width="0.2">10<tspan dy="-5.9" font-size="8.6">4</tspan></text><text transform="translate(442.10,152.90) scale(1.08,1)" text-anchor="end" font-size="10.6" font-weight="bold" fill="#000" stroke="#000" stroke-width="0.3">pH=8 D<tspan dy="2.8" font-size="8">h</tspan><tspan dy="-2.8"> 10 nm</tspan></text><text transform="translate(442.10,184.30) scale(1.08,1)" text-anchor="end" font-size="10.6" font-weight="bold" fill="#000" stroke="#000" stroke-width="0.3">pH=6 D<tspan dy="2.8" font-size="8">h</tspan><tspan dy="-2.8"> 11 nm</tspan></text><text transform="translate(442.10,214.80) scale(1.08,1)" text-anchor="end" font-size="10.6" font-weight="bold" fill="#000" stroke="#000" stroke-width="0.3">pH=pI D<tspan dy="2.8" font-size="8">h</tspan><tspan dy="-2.8"> 2530 nm</tspan></text><text transform="translate(442.10,245.00) scale(1.08,1)" text-anchor="end" font-size="10.6" font-weight="bold" fill="#000" stroke="#000" stroke-width="0.3">pH=4 D<tspan dy="2.8" font-size="8">h</tspan><tspan dy="-2.8"> 625 nm</tspan></text><text transform="translate(442.10,275.20) scale(1.08,1)" text-anchor="end" font-size="10.6" font-weight="bold" fill="#000" stroke="#000" stroke-width="0.3">pH=2 D<tspan dy="2.8" font-size="8">h</tspan><tspan dy="-2.8"> 14 nm</tspan></text><text transform="translate(349.32,330.90) scale(1.02,1)" text-anchor="middle" font-size="14" font-weight="bold" fill="#000" stroke="#000" stroke-width="0.2">Diameter (nm)</text><text transform="translate(246.55,217.05) rotate(-90) scale(1.05,1)" text-anchor="middle" font-size="14" font-weight="bold" fill="#000" stroke="#000" stroke-width="0.2">Intensity (%)</text><text transform="translate(482.70,311.50) scale(0.97,1)" text-anchor="middle" font-size="13.3" font-weight="bold" fill="#000" stroke="#000" stroke-width="0.2">10<tspan dy="-5.9" font-size="8.6">0</tspan></text><text transform="translate(530.19,311.50) scale(0.97,1)" text-anchor="middle" font-size="13.3" font-weight="bold" fill="#000" stroke="#000" stroke-width="0.2">10<tspan dy="-5.9" font-size="8.6">1</tspan></text><text transform="translate(577.67,311.50) scale(0.97,1)" text-anchor="middle" font-size="13.3" font-weight="bold" fill="#000" stroke="#000" stroke-width="0.2">10<tspan dy="-5.9" font-size="8.6">2</tspan></text><text transform="translate(625.16,311.50) scale(0.97,1)" text-anchor="middle" font-size="13.3" font-weight="bold" fill="#000" stroke="#000" stroke-width="0.2">10<tspan dy="-5.9" font-size="8.6">3</tspan></text><text transform="translate(672.65,311.50) scale(0.97,1)" text-anchor="middle" font-size="13.3" font-weight="bold" fill="#000" stroke="#000" stroke-width="0.2">10<tspan dy="-5.9" font-size="8.6">4</tspan></text><text transform="translate(669.75,152.95) scale(1.08,1)" text-anchor="end" font-size="10.6" font-weight="bold" fill="#000" stroke="#000" stroke-width="0.3">pH=8 D<tspan dy="2.4">h</tspan><tspan dy="-2.4">=9 nm</tspan></text><text transform="translate(669.75,184.15) scale(1.08,1)" text-anchor="end" font-size="10.6" font-weight="bold" fill="#000" stroke="#000" stroke-width="0.3">pH=6 D<tspan dy="2.4">h</tspan><tspan dy="-2.4">=11 nm</tspan></text><text transform="translate(669.75,214.60) scale(1.08,1)" text-anchor="end" font-size="10.6" font-weight="bold" fill="#000" stroke="#000" stroke-width="0.3">pH=pI D<tspan dy="2.4">h</tspan><tspan dy="-2.4">=860 nm</tspan></text><text transform="translate(669.75,245.40) scale(1.08,1)" text-anchor="end" font-size="10.6" font-weight="bold" fill="#000" stroke="#000" stroke-width="0.3">pH=4 D<tspan dy="2.4">h</tspan><tspan dy="-2.4">=371 nm</tspan></text><text transform="translate(669.75,275.55) scale(1.08,1)" text-anchor="end" font-size="10.6" font-weight="bold" fill="#000" stroke="#000" stroke-width="0.3">pH=2 D<tspan dy="2.4">h</tspan><tspan dy="-2.4">=11 nm</tspan></text><text transform="translate(577.38,330.90) scale(1.02,1)" text-anchor="middle" font-size="14" font-weight="bold" fill="#000" stroke="#000" stroke-width="0.2">Diameter (nm)</text><text transform="translate(474.60,217.08) rotate(-90) scale(1.05,1)" text-anchor="middle" font-size="14" font-weight="bold" fill="#000" stroke="#000" stroke-width="0.2">Intensity (%)</text><text transform="translate(127.75,663.80) scale(0.97,1)" text-anchor="middle" font-size="13.3" font-weight="bold" fill="#000" stroke="#000" stroke-width="0.2">10<tspan dy="-5.9" font-size="8.6">0</tspan></text><text transform="translate(175.34,663.80) scale(0.97,1)" text-anchor="middle" font-size="13.3" font-weight="bold" fill="#000" stroke="#000" stroke-width="0.2">10<tspan dy="-5.9" font-size="8.6">1</tspan></text><text transform="translate(222.93,663.80) scale(0.97,1)" text-anchor="middle" font-size="13.3" font-weight="bold" fill="#000" stroke="#000" stroke-width="0.2">10<tspan dy="-5.9" font-size="8.6">2</tspan></text><text transform="translate(270.51,663.80) scale(0.97,1)" text-anchor="middle" font-size="13.3" font-weight="bold" fill="#000" stroke="#000" stroke-width="0.2">10<tspan dy="-5.9" font-size="8.6">3</tspan></text><text transform="translate(318.10,663.80) scale(0.97,1)" text-anchor="middle" font-size="13.3" font-weight="bold" fill="#000" stroke="#000" stroke-width="0.2">10<tspan dy="-5.9" font-size="8.6">4</tspan></text><text transform="translate(315.35,505.00) scale(1.08,1)" text-anchor="end" font-size="10.6" font-weight="bold" fill="#000" stroke="#000" stroke-width="0.3">pH=8 D<tspan dy="2.4">h</tspan><tspan dy="-2.4"> 21 nm</tspan></text><text transform="translate(315.35,536.45) scale(1.08,1)" text-anchor="end" font-size="10.6" font-weight="bold" fill="#000" stroke="#000" stroke-width="0.3">pH=6 D<tspan dy="2.4">h</tspan><tspan dy="-2.4"> 13 nm</tspan></text><text transform="translate(315.35,566.70) scale(1.08,1)" text-anchor="end" font-size="10.6" font-weight="bold" fill="#000" stroke="#000" stroke-width="0.3">pH=pI D<tspan dy="2.4">h</tspan><tspan dy="-2.4"> 1116 nm</tspan></text><text transform="translate(315.35,596.80) scale(1.08,1)" text-anchor="end" font-size="10.6" font-weight="bold" fill="#000" stroke="#000" stroke-width="0.3">pH=4 D<tspan dy="2.4">h</tspan><tspan dy="-2.4"> 434 nm</tspan></text><text transform="translate(315.35,627.70) scale(1.08,1)" text-anchor="end" font-size="10.6" font-weight="bold" fill="#000" stroke="#000" stroke-width="0.3">pH=2 D<tspan dy="2.4">h</tspan><tspan dy="-2.4"> 14 nm</tspan></text><text transform="translate(222.62,684.60) scale(1.02,1)" text-anchor="middle" font-size="14" font-weight="bold" fill="#000" stroke="#000" stroke-width="0.2">Diameter (nm)</text><text transform="translate(119.65,569.25) rotate(-90) scale(1.05,1)" text-anchor="middle" font-size="14" font-weight="bold" fill="#000" stroke="#000" stroke-width="0.2">Intensity (%)</text><text transform="translate(351.65,663.80) scale(0.97,1)" text-anchor="middle" font-size="13.3" font-weight="bold" fill="#000" stroke="#000" stroke-width="0.2">10<tspan dy="-5.9" font-size="8.6">0</tspan></text><text transform="translate(399.23,663.80) scale(0.97,1)" text-anchor="middle" font-size="13.3" font-weight="bold" fill="#000" stroke="#000" stroke-width="0.2">10<tspan dy="-5.9" font-size="8.6">1</tspan></text><text transform="translate(446.80,663.80) scale(0.97,1)" text-anchor="middle" font-size="13.3" font-weight="bold" fill="#000" stroke="#000" stroke-width="0.2">10<tspan dy="-5.9" font-size="8.6">2</tspan></text><text transform="translate(494.38,663.80) scale(0.97,1)" text-anchor="middle" font-size="13.3" font-weight="bold" fill="#000" stroke="#000" stroke-width="0.2">10<tspan dy="-5.9" font-size="8.6">3</tspan></text><text transform="translate(541.95,663.80) scale(0.97,1)" text-anchor="middle" font-size="13.3" font-weight="bold" fill="#000" stroke="#000" stroke-width="0.2">10<tspan dy="-5.9" font-size="8.6">4</tspan></text><text transform="translate(539.20,504.90) scale(1.08,1)" text-anchor="end" font-size="10.6" font-weight="bold" fill="#000" stroke="#000" stroke-width="0.3">pH=8 D<tspan dy="2.4">h</tspan><tspan dy="-2.4"> 27 nm</tspan></text><text transform="translate(539.20,536.45) scale(1.08,1)" text-anchor="end" font-size="10.6" font-weight="bold" fill="#000" stroke="#000" stroke-width="0.3">pH=6 D<tspan dy="2.4">h</tspan><tspan dy="-2.4"> 66 nm</tspan></text><text transform="translate(539.20,566.50) scale(1.08,1)" text-anchor="end" font-size="10.6" font-weight="bold" fill="#000" stroke="#000" stroke-width="0.3">pH=4 D<tspan dy="2.4">h</tspan><tspan dy="-2.4"> 1252 nm</tspan></text><text transform="translate(539.20,597.90) scale(1.08,1)" text-anchor="end" font-size="10.6" font-weight="bold" fill="#000" stroke="#000" stroke-width="0.3">pH=pI D<tspan dy="2.4">h</tspan><tspan dy="-2.4"> 1759 nm</tspan></text><text transform="translate(539.20,627.50) scale(1.08,1)" text-anchor="end" font-size="10.6" font-weight="bold" fill="#000" stroke="#000" stroke-width="0.3">pH=2 D<tspan dy="2.4">h</tspan><tspan dy="-2.4"> 20 nm</tspan></text><text transform="translate(446.50,684.60) scale(1.02,1)" text-anchor="middle" font-size="14" font-weight="bold" fill="#000" stroke="#000" stroke-width="0.2">Diameter (nm)</text><text transform="translate(343.55,569.20) rotate(-90) scale(1.05,1)" text-anchor="middle" font-size="14" font-weight="bold" fill="#000" stroke="#000" stroke-width="0.2">Intensity (%)</text>
</svg>
</body></html>
